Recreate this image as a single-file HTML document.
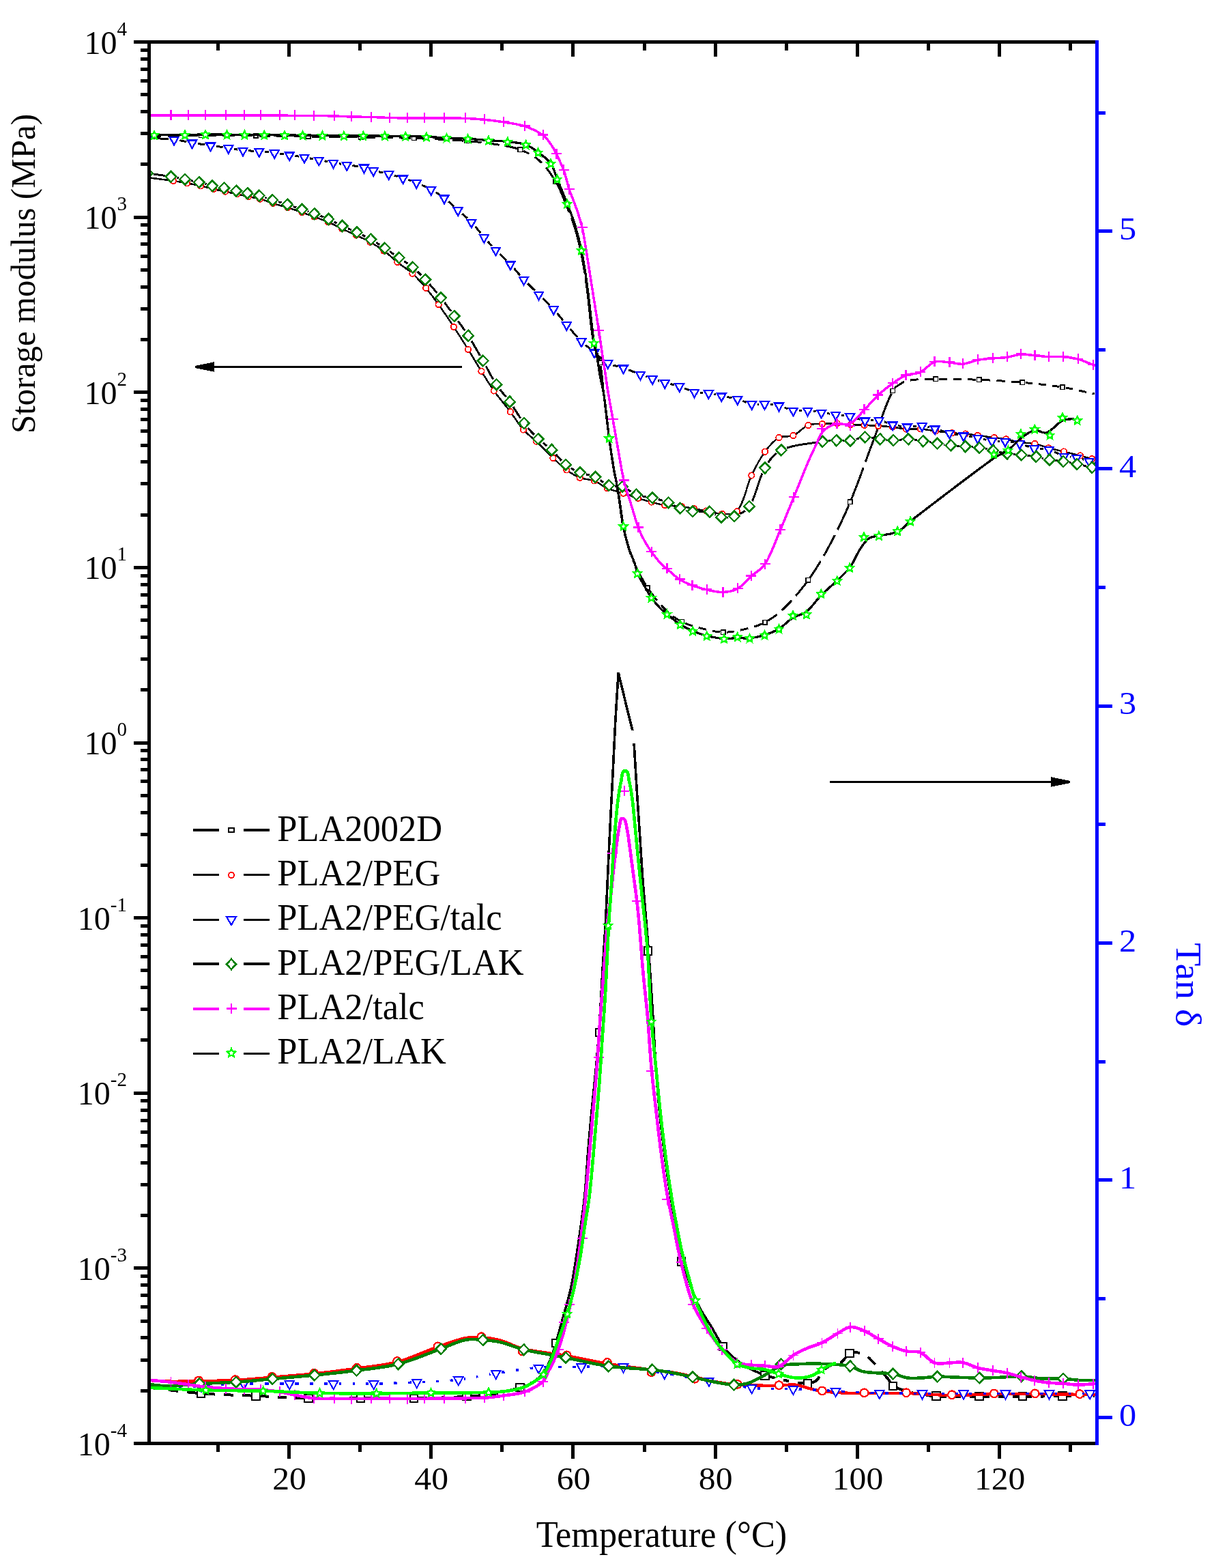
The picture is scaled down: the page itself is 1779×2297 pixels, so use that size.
<!DOCTYPE html>
<html lang="en"><head><meta charset="utf-8"><title>Storage modulus and Tan δ vs Temperature</title>
<style>html,body{margin:0;padding:0;background:#fff;width:1779px;height:2297px;overflow:hidden}svg{display:block}text{font-family:'Liberation Serif', 'DejaVu Serif', serif;}</style></head><body>
<svg width="1779" height="2297" viewBox="0 0 1779 2297">
<rect width="1779" height="2297" fill="#fff"/>
<defs>
<g id="sq_s"><rect x="-3.2" y="-3.2" width="6.4" height="6.4" fill="#fff" stroke="#000000" stroke-width="1.5"/></g>
<g id="ci_s"><circle r="4.2" fill="#fff" stroke="#ff0000" stroke-width="1.8"/></g>
<g id="tr"><path d="M-6.4,-6 L6.4,-6 L0,5.6 Z" fill="#fff" stroke="#0000ff" stroke-width="2.3" stroke-linejoin="miter"/></g>
<g id="di"><path d="M0,-7.9 L7.7,0 L0,7.9 L-7.7,0 Z" fill="#fff" stroke="#008000" stroke-width="2.5" stroke-linejoin="miter"/></g>
<g id="pl"><path d="M-7.5,0 H7.5 M0,-7.5 V7.5" fill="none" stroke="#ff00ff" stroke-width="2.4"/></g>
<g id="st"><path d="M0,-6L1.7,-2.3L5.7,-1.9L2.8,0.9L3.5,4.9L0,2.9L-3.5,4.9L-2.8,0.9L-5.7,-1.9L-1.7,-2.3Z" fill="#fff" stroke="#00ff00" stroke-width="2.4" stroke-linejoin="miter"/></g>
<g id="sq_b"><rect x="-5.7" y="-5.7" width="11.4" height="11.4" fill="#fff" stroke="#000000" stroke-width="2"/></g>
<g id="ci_b"><circle r="5.8" fill="#fff" stroke="#ff0000" stroke-width="2.3"/></g>
<g id="tr_b"><path d="M-6.7,-6.2 L6.7,-6.2 L0,5.9 Z" fill="#fff" stroke="#0000ff" stroke-width="2" stroke-linejoin="miter"/></g>
<g id="di_b"><path d="M0,-7.8 L7.6,0 L0,7.8 L-7.6,0 Z" fill="#fff" stroke="#008000" stroke-width="2.5" stroke-linejoin="miter"/></g>
<g id="pl_b"><path d="M-7.5,0 H7.5 M0,-7.5 V7.5" fill="none" stroke="#ff00ff" stroke-width="1.8"/></g>
<g id="st_b"><path d="M0,-6.1L1.7,-2.3L5.8,-1.9L2.8,0.9L3.6,4.9L0,2.9L-3.6,4.9L-2.8,0.9L-5.8,-1.9L-1.7,-2.3Z" fill="#fff" stroke="#00ff00" stroke-width="2.2" stroke-linejoin="miter"/></g>
<clipPath id="cp"><rect x="221" y="64" width="1384" height="2048"/></clipPath>
</defs>
<g clip-path="url(#cp)" shape-rendering="crispEdges">
<g id="storage-modulus">
<path d="M221,199.5 L222,199.5 L223,199.5 L224,199.5 L225,199.4 L226,199.4 L227,199.4 L228.1,199.4 L229.1,199.4 L230.1,199.4 L231.1,199.4 L232.1,199.3 L233.1,199.3 L234.1,199.3 L235.1,199.3 L236.1,199.3 L236.4,199.3 M245.6,199.1 L246.2,199.1 L247.2,199.1 L248.2,199.1 L249.2,199 L250.2,199 L251.2,199 L252.3,199 L253.3,199 L254.3,199 L255.3,198.9 L256.3,198.9 L257.3,198.9 L258.3,198.9 L259.3,198.9 L260.3,198.9 L261.3,198.8 L262.3,198.8 L263.2,198.8 M272.4,198.7 L272.4,198.7 L273.4,198.7 L274.4,198.7 L275.4,198.7 L276.5,198.6 L277.5,198.6 L278.5,198.6 L279.5,198.6 L280.5,198.6 L281.5,198.6 L282.5,198.6 L283.5,198.6 L284.5,198.6 L285.5,198.6 L286.5,198.5 L287.5,198.5 L288.6,198.5 L289.6,198.5 L290,198.5 M299.2,198.5 L299.6,198.5 L300.6,198.5 L301.6,198.5 L302.6,198.5 L303.6,198.5 L304.7,198.5 L305.7,198.5 L306.7,198.5 L307.7,198.5 L308.7,198.5 L309.7,198.5 L310.7,198.5 L311.7,198.5 L312.7,198.5 L313.7,198.5 L314.7,198.5 L315.7,198.5 L316.7,198.5 L316.8,198.5 M326,198.6 L326.8,198.6 L327.8,198.6 L328.8,198.6 L329.8,198.6 L330.8,198.6 L331.8,198.6 L332.8,198.6 L333.8,198.6 L334.8,198.6 L335.8,198.6 L336.8,198.6 L337.8,198.6 L338.8,198.7 L339.8,198.7 L340.8,198.7 L341.8,198.7 L342.8,198.7 L343.6,198.7 M352.8,198.8 L352.9,198.8 L353.9,198.8 L354.9,198.8 L355.9,198.8 L356.9,198.8 L357.9,198.8 L358.9,198.8 L359.9,198.9 L360.9,198.9 L361.9,198.9 L362.9,198.9 L363.9,198.9 L365,198.9 L366,198.9 L367,198.9 L368,198.9 L369,198.9 L370,199 L370.4,199 M379.6,199 L380,199 L381,199.1 L382,199.1 L383,199.1 L384,199.1 L385,199.1 L386,199.1 L387,199.1 L388,199.1 L389,199.1 L390,199.2 L391,199.2 L392,199.2 L393,199.2 L394,199.2 L395,199.2 L396,199.2 L396,199.2 M405.2,199.4 L406,199.4 L407,199.4 L408,199.4 L409,199.4 L410,199.4 L411,199.4 L412,199.4 L413,199.5 L414,199.5 L415,199.5 L416,199.5 L417,199.5 L418,199.5 L419,199.5 L420,199.6 L421,199.6 L421.7,199.6 M430.9,199.7 L431,199.7 L432,199.7 L433,199.7 L434,199.8 L435,199.8 L436,199.8 L437,199.8 L438,199.8 L439,199.8 L440,199.8 L441,199.9 L442,199.9 L443,199.9 L444,199.9 L445,199.9 L446,199.9 L447,199.9 L447.3,199.9 M456.5,200.1 L457,200.1 L458,200.1 L459,200.1 L460,200.1 L461,200.1 L462,200.1 L463,200.1 L464,200.1 L465,200.2 L466,200.2 L467,200.2 L468,200.2 L469,200.2 L470,200.2 L471,200.2 L472,200.2 L472.9,200.3 M482.1,200.4 L483,200.4 L484,200.4 L485,200.4 L486,200.4 L487,200.4 L488,200.4 L489,200.4 L490,200.5 L491,200.5 L492,200.5 L493,200.5 L494,200.5 L495,200.5 L496,200.5 L497,200.5 L498,200.6 L498.6,200.6 M507.8,200.7 L508,200.7 L509,200.7 L510,200.7 L511,200.7 L512,200.7 L513,200.7 L514,200.8 L515,200.8 L516,200.8 L517,200.8 L518,200.8 L519,200.8 L520,200.8 L521,200.9 L522,200.9 L523,200.9 L524,200.9 L524.2,200.9 M533.4,201.1 L534,201.1 L535,201.1 L536,201.1 L537,201.1 L538,201.1 L539,201.1 L540,201.2 L541,201.2 L542,201.2 L543,201.2 L544,201.2 L545,201.2 L546,201.2 L547,201.3 L548,201.3 L549,201.3 L550,201.3 L550.2,201.3 M559.4,201.4 L560,201.4 L561,201.5 L562,201.5 L563,201.5 L564,201.5 L565,201.5 L566,201.5 L567,201.5 L568,201.6 L569,201.6 L570,201.6 L571,201.6 L572,201.6 L573,201.7 L574,201.7 L575,201.7 L576,201.7 L576.1,201.7 M585.3,201.9 L586,201.9 L587,201.9 L588,202 L589,202 L590,202 L591,202 L592,202.1 L593,202.1 L594,202.1 L595,202.1 L596,202.2 L597,202.2 L598,202.2 L599,202.3 L600,202.3 L601,202.3 L602,202.4 L602.1,202.4 M611.3,202.7 L612,202.7 L613,202.8 L614,202.8 L615,202.8 L616,202.9 L617,202.9 L618,202.9 L619,203 L620,203 L621,203.1 L622,203.1 L623,203.1 L624,203.2 L625,203.2 L626,203.3 L627,203.3 L627.9,203.3 M637.1,203.7 L638,203.8 L639,203.8 L640,203.9 L641,203.9 L642,204 L643,204 L644,204.1 L645,204.1 L646,204.2 L647,204.2 L648,204.3 L649,204.3 L650,204.4 L651,204.4 L652,204.5 L653,204.5 L653.7,204.5 M662.9,205.1 L663,205.1 L664,205.1 L665,205.2 L666,205.3 L667,205.3 L668,205.4 L669,205.4 L670,205.5 L671,205.6 L672,205.6 L673,205.7 L674,205.8 L675,205.8 L676,205.9 L677,206 L678,206.1 L679,206.1 L679.5,206.2 M688.7,206.9 L689,206.9 L690,207 L691,207.1 L692,207.2 L693,207.3 L694,207.4 L695,207.5 L696,207.6 L697,207.7 L698,207.8 L699,207.9 L700.1,208 L701.1,208.1 L702.1,208.2 L703.1,208.3 L704.1,208.4 L705.1,208.5 L705.5,208.6 M714.7,209.7 L715.1,209.8 L716.1,209.9 L717.1,210 L718,210.2 L719,210.3 L720,210.5 L721,210.6 L722,210.8 L723,210.9 L724,211.1 L725,211.2 L726,211.4 L727,211.5 L728,211.7 L729,211.8 L730,212 L731,212.2 L731.6,212.3 M740.6,213.8 L741.2,213.9 L742.2,214.1 L743.2,214.2 L744.2,214.4 L745.3,214.6 L746.3,214.8 L747.3,215.1 L748.3,215.3 L749.3,215.5 L750.3,215.7 L751.3,216 L752.3,216.2 L753.3,216.5 L754.3,216.8 L755.3,217 L756.3,217.3 L757.2,217.6 L757.8,217.8 M766.4,221 L766.8,221.2 L767.7,221.6 L768.6,222 L769.5,222.4 L770.5,222.8 L771.4,223.2 L772.3,223.6 L773.2,224.1 L774.1,224.5 L775,225 L775.4,225.2 M783.4,229.9 L783.7,230.1 L784.5,230.7 L785.3,231.2 L786.1,231.8 L786.9,232.4 L787.7,233.1 L788.5,233.7 L789.2,234.3 L790,235 L790.7,235.7 L791.5,236.4 L792.2,237.1 L792.9,237.8 L793.7,238.5 L793.7,238.5 M799.8,245.3 L800.4,246 L801,246.7 L801.7,247.5 L802.3,248.3 L802.9,249.1 L803.5,249.9 L804.1,250.7 L804.7,251.6 L805.3,252.4 L805.9,253.2 L806.5,254 L807.1,254.9 L807.7,255.7 L808.2,256.5 L808.8,257.4 L809.3,258.2 L809.9,259.1 L810.5,259.9 L811,260.8 L811.5,261.6 L811.8,262 M816.5,269.9 L816.7,270.3 L817.2,271.2 L817.6,272.1 L818.1,273 L818.6,273.9 L819,274.8 L819.4,275.7 L819.9,276.6 L820.3,277.5 L820.7,278.5 L821.1,279.4 L821.5,280.3 L822,281.3 L822.4,282.2 L822.8,283.1 L823.1,284.1 L823.5,285 L823.9,285.9 L824.3,286.9 L824.7,287.8 L825.1,288.8 L825.5,289.7 L825.8,290.6 L826.2,291.6 L826.6,292.5 L827,293.5 L827.3,294.4 L827.7,295.4 L828.1,296.3 L828.5,297.2 L828.8,298.2 L829.2,299.1 L829.6,300.1 L830,301 L830.4,301.9 L830.8,302.9 L831.2,303.8 L831.5,304.7 L831.9,305.6 L832.3,306.6 L832.7,307.5 L833,308.4 L833.4,309.4 L833.8,310.3 L834.2,311.2 L834.2,311.3 M837.5,319.9 L837.8,320.6 L838.1,321.6 L838.5,322.5 L838.8,323.5 L839.1,324.4 L839.5,325.4 L839.8,326.3 L840.1,327.3 L840.4,328.2 L840.8,329.2 L841.1,330.1 L841.4,331.1 L841.7,332 L842,333 L842.3,334 L842.6,334.9 L842.9,335.9 L843.2,336.8 L843.5,337.8 L843.7,338.8 L844,339.7 L844.3,340.7 L844.6,341.7 L844.9,342.6 L845.1,343.6 L845.4,344.6 L845.7,345.5 L845.9,346.5 L846.2,347.5 L846.4,348.4 L846.7,349.4 L846.9,350.4 L847.2,351.4 L847.4,352.3 L847.7,353.3 L847.9,354.3 L848.2,355.3 L848.4,356.2 L848.6,357.2 L848.8,358.2 L849.1,359.2 L849.3,360.1 L849.5,361.1 L849.7,362.1 L850,363.1 L850.2,364.1 L850.4,365.1 L850.6,366 L850.8,367 L851,368 L851.2,369 L851.4,370 L851.6,371 L851.8,372 L852,373 L852.2,374 L852.4,375 L852.6,376 L852.8,377 L853,378 L853.2,378.9 L853.3,379.9 L853.5,380.9 L853.7,381.9 L853.9,382.9 L854.1,383.9 L854.3,384.9 L854.4,385.9 L854.6,386.9 L854.8,387.9 L855,388.9 L855.1,389.9 L855.3,390.9 L855.5,391.9 L855.6,392.9 L855.8,393.9 L856,394.9 L856.1,395.9 L856.3,396.9 L856.5,397.9 L856.6,398.9 L856.8,399.9 L856.8,400.1 M858.2,409.2 L858.3,410 L858.5,411 L858.6,412 L858.8,413 L858.9,414 L859.1,415 L859.2,416 L859.4,417 L859.5,418 L859.6,419 L859.8,420 L859.9,421 L860,422 L860.2,423 L860.3,424 L860.4,425 L860.6,426 L860.7,427 L860.8,428 L860.9,429 L861,430 L861.2,431 L861.3,432 L861.4,433 L861.5,434 L861.6,435 L861.7,436 L861.8,437 L862,438 L862.1,439 L862.2,440 L862.3,441 L862.4,442 L862.5,443 L862.6,444 L862.7,445 L862.8,446 L862.9,447 L863,448 L863.1,449 L863.2,450 L863.3,451 L863.4,452 L863.5,453 L863.6,454 L863.7,455 L863.9,456 L864,457 L864.1,458.1 L864.2,459.1 L864.3,460.1 L864.4,461.1 L864.5,462.1 L864.6,463.1 L864.7,464.1 L864.8,465.1 L864.9,466.1 L865,467.1 L865.1,468.1 L865.2,469.1 L865.4,470.1 L865.5,471.1 L865.6,472.1 L865.7,473.1 L865.8,474.1 L865.9,475.1 L866.1,476.1 L866.2,477.1 L866.3,478.1 L866.4,479.1 L866.5,480.1 L866.7,481.1 L866.8,482.1 L866.9,483.1 L867.1,484.1 L867.2,485.1 L867.3,486.1 L867.5,487.1 L867.6,488.1 L867.8,489.1 L867.9,490.1 L868.1,491.1 L868.2,492 L868.4,493 L868.5,494 L868.7,495 L868.8,496 L869,497 L869.2,498 L869.3,499 L869.5,500 L869.7,501 L869.9,502 L870.1,503 L870.4,504 L870.6,505 L870.9,506 L871.2,506.9 L871.5,507.9 L871.8,508.9 L872.2,509.9 L872.5,510.8 L872.8,511.8 L873.2,512.8 L873.6,513.7 L873.9,514.7 L874.3,515.7 L874.6,516.6 L875,517.6 L875.4,518.6 L875.7,519.5 L876.1,520.5 L876.4,521.5 L876.7,522.4 L877.1,523.4 L877.4,524.4 L877.7,525.4 L878,526.3 L878.1,526.8 M880,535.8 L880.1,536.2 L880.2,537.2 L880.4,538.2 L880.5,539.2 L880.7,540.2 L880.8,541.2 L881,542.2 L881.1,543.1 L881.2,544.1 L881.4,545.1 L881.5,546.1 L881.6,547.1 L881.7,548.1 L881.8,549.1 L882,550.1 L882.1,551.1 L882.2,552.1 L882.3,553.1 L882.4,554.1 L882.5,555.1 L882.6,556.1 L882.7,557.1 L882.8,558.1 L882.9,559.1 L883,560.1 L883.1,561.1 L883.2,562.1 L883.3,563.1 L883.4,564.1 L883.4,565.1 L883.5,566.1 L883.6,567.1 L883.7,568 L883.8,569 L883.9,570 L884,571 L884.1,572 L884.2,573 L884.3,574 L884.4,575 L884.5,576 L884.7,577 L884.8,578 L884.9,579 L885,580 L885.1,581 L885.2,582 L885.4,583 L885.5,584 L885.6,585 L885.7,586 L885.8,587 L886,588 L886.1,589 L886.2,590 L886.3,591 L886.4,592 L886.5,593 L886.7,594 L886.8,595 L886.9,596 L887,597 L887.1,598 L887.2,599 L887.4,600 L887.5,601 L887.6,602 L887.7,603 L887.8,604 L888,605 L888.1,606 L888.2,607 L888.3,608 L888.4,609 L888.5,610 L888.7,611 L888.8,612 L888.9,613 L889,614 L889.1,615 L889.3,616 L889.4,617 L889.5,618 L889.6,619 L889.7,620 L889.9,621 L890,622 L890.1,623 L890.2,624 L890.3,625 L890.5,626 L890.6,627 L890.7,628 L890.8,629 L891,630 L891.1,631 L891.2,632 L891.3,633 L891.5,634 L891.6,635 L891.7,636 L891.8,637 L892,638 L892.1,639 L892.2,640 L892.4,641 L892.5,642 L892.6,643 L892.8,644 L892.9,645 L893,646 L893.2,647 L893.3,648 L893.4,649 L893.6,650 L893.7,651 L893.9,652 L894,653 L894.1,654 L894.3,655 L894.4,656 L894.6,657 L894.7,658 L894.8,659 L895,660 L895.1,661 L895.3,662 L895.4,663 L895.6,664 L895.7,665 L895.9,666 L896,667 L896.2,668 L896.3,669 L896.5,670 L896.6,671 L896.8,672 L896.9,673 L897.1,674 L897.2,675 L897.4,676 L897.6,677 L897.7,678 L897.9,679 L898,680 L898.2,681 L898.3,682 L898.5,683 L898.7,684 L898.8,685 L899,686 L899.2,687 L899.3,688 L899.5,689 L899.7,690 L899.9,691 L900,692 L900.2,693 L900.4,694 L900.6,695 L900.8,696 L901,697 L901.2,698 L901.3,699 L901.5,700 L901.6,700.3 M903.3,709.3 L903.5,710 L903.7,711 L903.8,712 L904,713 L904.2,714 L904.4,715 L904.6,716 L904.8,717 L905,718 L905.1,719 L905.3,720 L905.5,721 L905.7,722 L905.8,723 L906,724 L906.2,725 L906.3,726 L906.5,727 L906.6,728 L906.8,729 L906.9,730 L907.1,731 L907.2,732 L907.4,733 L907.5,734 L907.7,735 L907.8,736 L907.9,737 L908.1,738 L908.2,739 L908.3,740 L908.5,741 L908.6,742 L908.7,743 L908.9,744 L909,745 L909.1,746 L909.3,747 L909.4,748 L909.5,749 L909.7,750 L909.8,751 L909.9,752 L910.1,753 L910.2,754 L910.4,755 L910.5,756 L910.7,757 L910.8,758 L911,759 L911.1,760 L911.3,761 L911.4,762 L911.6,763 L911.8,764 L911.9,765 L912.1,766 L912.3,767 L912.4,768 L912.6,769 L912.8,770 L913,771 L913.2,772 L913.4,773 L913.6,773.9 L913.8,774.9 L914,775.9 L914.2,776.9 L914.4,777.9 L914.7,778.8 L914.9,779.8 L915.1,780.8 L915.3,781.8 L915.6,782.7 L915.8,783.7 L916.1,784.7 L916.3,785.7 L916.6,786.6 L916.8,787.6 L917.1,788.6 L917.3,789.6 L917.6,790.5 L917.8,791.5 L918.1,792.5 L918.4,793.4 L918.6,794.4 L918.9,795.4 L919.2,796.3 L919.5,797.3 L919.8,798.2 L920,799.2 L920.3,800.2 L920.6,801.1 L920.9,802.1 L921.2,803 L921.5,804 L921.8,805 L922.1,806 L922.4,806.9 L922.8,807.9 L923.1,808.9 L923.4,809.9 L923.7,810.8 L924.1,811.8 L924.1,811.9 M927.5,820.4 L927.9,821.3 L928.3,822.3 L928.7,823.2 L929.1,824.1 L929.6,825.1 L930,826 L930.4,826.9 L930.9,827.8 L931.3,828.8 L931.8,829.7 L932.2,830.6 L932.7,831.5 L933.1,832.4 L933.6,833.4 L934,834.3 L934.5,835.2 L934.9,836.1 L935.4,837 L935.8,837.9 L936.3,838.9 L936.8,839.8 L937.2,840.7 L937.7,841.6 L938.2,842.5 L938.6,843.4 L939.1,844.3 L939.6,845.2 L940.1,846.1 L940.6,847 L941.1,847.9 L941.6,848.8 L942.1,849.7 L942.6,850.6 L943.1,851.5 L943.6,852.3 L944.1,853.2 L944.6,854.1 L945.2,855 L945.7,855.8 L946.2,856.7 L946.5,857.1 M951.6,864.8 L951.8,865.2 L952.4,866 L953,866.8 L953.6,867.6 L954.2,868.4 L954.8,869.2 L955.4,870.1 L956,870.9 L956.6,871.7 L957.2,872.5 L957.8,873.3 L958.4,874.1 L959,874.9 L959.6,875.7 L960.3,876.5 L960.9,877.3 L961.5,878 L962.2,878.8 L962.7,879.5 M968.8,886.5 L969.4,887.2 L970.1,887.9 L970.8,888.7 L971.5,889.4 L972.2,890.1 L972.9,890.9 L973.6,891.6 L974.3,892.3 L975,893 L975.7,893.7 L976.5,894.4 L977.2,895.2 L978,895.9 L978.8,896.6 L978.9,896.7 M986,902.6 L986.8,903.2 L987.6,903.8 L988.5,904.4 L989.3,905 L990.2,905.5 L991,906.1 L991.9,906.7 L992.8,907.2 L993.7,907.8 L994.6,908.3 L995.1,908.6 M1003.3,912.8 L1003.7,912.9 L1004.6,913.3 L1005.6,913.7 L1006.5,914.1 L1007.5,914.5 L1008.4,914.8 L1009.4,915.2 L1010.4,915.5 L1011.3,915.8 L1012.3,916.1 L1013.3,916.4 L1014.2,916.7 L1014.9,917 M1023.8,919.4 L1024.1,919.5 L1025.1,919.7 L1026,920 L1027,920.3 L1028,920.5 L1029,920.8 L1030,921 L1031,921.2 L1032,921.5 L1032.9,921.7 L1033.9,922 L1034.9,922.2 L1035.2,922.3 M1044.1,924.3 L1044.8,924.5 L1045.8,924.7 L1046.8,924.8 L1047.8,925 L1048.8,925.2 L1049.8,925.3 L1050.8,925.5 L1051.8,925.6 L1052.8,925.7 L1053.8,925.8 L1054.9,925.9 L1055.3,926 M1064.5,926.1 L1065,926.1 L1066,926.1 L1067,926 L1068,925.9 L1069,925.8 L1070,925.7 L1071,925.6 L1072,925.5 L1073,925.3 L1074,925.2 L1075.1,925 L1075.7,924.9 M1084.8,923.2 L1085.1,923.1 L1086,922.9 L1087,922.7 L1088,922.5 L1089,922.2 L1090,922 L1091,921.8 L1092,921.5 L1093,921.3 L1094,921 L1095,920.8 L1096,920.6 L1096.2,920.5 M1105.1,918.1 L1105.9,917.8 L1106.8,917.5 L1107.8,917.2 L1108.8,916.9 L1109.8,916.5 L1110.7,916.2 L1111.7,915.9 L1112.6,915.5 L1113.6,915.1 L1114.5,914.7 L1115.5,914.3 L1116.4,913.9 L1116.9,913.7 M1125,909.4 L1125.4,909.2 L1126.2,908.7 L1127.1,908.2 L1128,907.6 L1128.8,907.1 L1129.7,906.5 L1130.5,906 L1131.3,905.4 L1132.2,904.9 L1133,904.3 L1133.8,903.7 L1134.6,903.1 L1135.4,902.5 L1136.3,901.9 L1137.1,901.3 L1137.9,900.6 L1138.6,900.1 M1145.6,894.1 L1146.3,893.5 L1147.1,892.8 L1147.8,892.1 L1148.6,891.4 L1149.3,890.7 L1150,890 L1150.7,889.3 L1151.5,888.6 L1152.2,887.9 L1152.9,887.1 L1153.6,886.4 L1154.3,885.7 L1155,885 L1155.7,884.2 L1156.4,883.5 L1157.2,882.8 L1157.9,882 L1158.6,881.3 L1159.2,880.5 L1159.9,879.8 L1160.2,879.5 M1166.3,872.7 L1166.7,872.2 L1167.4,871.4 L1168.1,870.6 L1168.7,869.9 L1169.4,869.1 L1170,868.3 L1170.7,867.5 L1171.3,866.7 L1172,865.9 L1172.6,865.2 L1173.3,864.4 L1173.9,863.6 L1174.5,862.8 L1175.2,862 L1175.8,861.2 L1176.4,860.4 L1177.1,859.6 L1177.7,858.8 L1178.3,858 L1178.9,857.2 L1179.6,856.3 L1180.2,855.5 L1180.8,854.7 L1181.4,853.9 L1181.7,853.5 M1187.1,846.1 L1187.3,845.7 L1187.9,844.9 L1188.5,844 L1189,843.2 L1189.6,842.4 L1190.2,841.5 L1190.7,840.7 L1191.3,839.9 L1191.9,839 L1192.4,838.2 L1193,837.3 L1193.5,836.5 L1194.1,835.7 L1194.6,834.8 L1195.2,834 L1195.7,833.1 L1196.3,832.3 L1196.8,831.4 L1197.3,830.6 L1197.9,829.7 L1198.4,828.9 L1198.9,828 L1199.5,827.1 L1200,826.3 L1200.5,825.4 L1201,824.6 L1201.6,823.7 L1202.1,822.8 L1202.6,822 M1207.2,814.1 L1207.7,813.2 L1208.2,812.4 L1208.7,811.5 L1209.2,810.6 L1209.7,809.7 L1210.2,808.8 L1210.7,808 L1211.1,807.1 L1211.6,806.2 L1212.1,805.3 L1212.6,804.4 L1213.1,803.5 L1213.6,802.7 L1214,801.8 L1214.5,800.9 L1215,800 L1215.5,799.1 L1216,798.2 L1216.4,797.3 L1216.9,796.4 L1217.4,795.5 L1217.8,794.7 L1218.3,793.8 L1218.8,792.9 L1219.3,792 L1219.7,791.1 L1220.2,790.2 L1220.7,789.3 L1221.1,788.4 L1221.6,787.5 L1222,786.6 L1222.5,785.7 L1223,784.8 L1223.3,784 M1227.4,775.8 L1227.5,775.7 L1227.9,774.8 L1228.4,773.9 L1228.8,773 L1229.3,772.1 L1229.7,771.2 L1230.1,770.3 L1230.6,769.4 L1231,768.5 L1231.4,767.6 L1231.9,766.7 L1232.3,765.7 L1232.7,764.8 L1233.2,763.9 L1233.6,763 L1234,762.1 L1234.5,761.2 L1234.9,760.2 L1235.3,759.3 L1235.7,758.4 L1236.2,757.5 L1236.6,756.6 L1237,755.7 L1237.4,754.7 L1237.8,753.8 L1238.2,752.9 L1238.7,752 L1239.1,751.1 L1239.5,750.1 L1239.9,749.2 L1240.3,748.3 L1240.7,747.4 L1241.1,746.4 L1241.5,745.5 L1241.9,744.6 L1242.3,743.7 L1242.7,742.7 L1243.1,741.8 L1243.5,740.9 L1243.9,739.9 L1244.1,739.5 M1247.7,731.1 L1247.8,730.7 L1248.2,729.7 L1248.6,728.8 L1249,727.9 L1249.3,726.9 L1249.7,726 L1250.1,725.1 L1250.5,724.1 L1250.8,723.2 L1251.2,722.3 L1251.6,721.3 L1251.9,720.4 L1252.3,719.5 L1252.7,718.5 L1253,717.6 L1253.4,716.6 L1253.8,715.7 L1254.1,714.8 L1254.5,713.8 L1254.9,712.9 L1255.2,712 L1255.6,711 L1255.9,710.1 L1256.3,709.1 L1256.6,708.2 L1257,707.3 L1257.4,706.3 L1257.7,705.4 L1258.1,704.4 L1258.4,703.5 L1258.8,702.6 L1259.1,701.6 L1259.5,700.7 L1259.8,699.7 L1260.2,698.8 L1260.5,697.8 L1260.9,696.9 L1261.2,696 L1261.6,695 L1261.9,694.1 L1262.3,693.1 L1262.6,692.2 L1263,691.2 L1263.3,690.3 L1263.6,689.3 L1264,688.4 L1264.3,687.5 L1264.7,686.5 L1265,685.6 L1265.1,685.3 M1268.3,676.6 L1268.5,676.1 L1268.8,675.2 L1269.2,674.2 L1269.5,673.3 L1269.8,672.3 L1270.2,671.4 L1270.5,670.4 L1270.9,669.5 L1271.2,668.6 L1271.6,667.6 L1271.9,666.7 L1272.3,665.7 L1272.6,664.8 L1272.9,663.8 L1273.3,662.9 L1273.6,661.9 L1274,661 L1274.3,660.1 L1274.7,659.1 L1275,658.2 L1275.4,657.2 L1275.7,656.3 L1276.1,655.3 L1276.4,654.4 L1276.8,653.5 L1277.1,652.5 L1277.5,651.6 L1277.9,650.6 L1278.2,649.7 L1278.6,648.8 L1278.9,647.8 L1279.3,646.9 L1279.6,645.9 L1280,645 L1280.4,644.1 L1280.7,643.1 L1281.1,642.2 L1281.4,641.2 L1281.8,640.3 L1282.1,639.3 L1282.5,638.4 L1282.8,637.4 L1283.2,636.5 L1283.5,635.5 L1283.9,634.6 L1284.2,633.6 L1284.6,632.7 L1284.9,631.7 L1285.2,630.8 L1285.6,629.8 L1285.9,628.9 L1286,628.8 M1289,620.1 L1289.3,619.3 L1289.6,618.4 L1290,617.4 L1290.3,616.4 L1290.7,615.5 L1291,614.5 L1291.3,613.6 L1291.7,612.6 L1292,611.7 L1292.4,610.7 L1292.7,609.8 L1293.1,608.8 L1293.4,607.9 L1293.8,606.9 L1294.1,606 L1294.5,605 L1294.8,604.1 L1295.2,603.1 L1295.5,602.2 L1295.9,601.2 L1296.2,600.3 L1296.6,599.3 L1297,598.4 L1297.3,597.5 L1297.7,596.5 L1298.1,595.6 L1298.4,594.6 L1298.8,593.7 L1299.2,592.8 L1299.6,591.8 L1299.9,590.9 L1300.3,590 L1300.7,589 L1301.1,588.1 L1301.5,587.2 L1301.9,586.2 L1302.3,585.3 L1302.7,584.4 L1303.1,583.5 L1303.5,582.5 L1303.9,581.6 L1304.4,580.7 L1304.8,579.8 L1305.2,578.9 L1305.6,577.9 L1306.1,577 L1306.3,576.6 M1311,568.8 L1311.4,568.3 L1312.1,567.6 L1312.9,566.9 L1313.7,566.2 L1314.6,565.6 L1315.5,565 L1316.4,564.4 L1317.3,563.8 L1318.2,563.2 L1319.1,562.7 L1320,562.1 L1321,561.6 L1321.9,561 L1322.8,560.5 L1323.7,560 L1324.6,559.6 L1324.9,559.5 M1333.8,557.2 L1334.6,557 L1335.7,556.8 L1336.7,556.6 L1337.8,556.5 L1338.9,556.3 L1339.9,556.2 L1341,556.1 L1342.1,556 L1343.2,556 L1344.2,555.9 L1345.3,555.9 L1345.7,555.8 M1354.9,555.5 L1355.7,555.5 L1356.8,555.4 L1357.8,555.4 L1358.8,555.4 L1359.9,555.4 L1360.9,555.4 L1362,555.3 L1363,555.3 L1364,555.3 L1365.1,555.3 L1366.1,555.3 L1366.7,555.3 M1375.9,555.3 L1376.3,555.3 L1377.3,555.3 L1378.3,555.3 L1379.4,555.3 L1380.4,555.3 L1381.4,555.4 L1382.4,555.4 L1383.4,555.4 L1384.4,555.4 L1385.4,555.4 L1386.4,555.4 L1387.4,555.4 L1387.8,555.4 M1397,555.5 L1397.5,555.5 L1398.5,555.5 L1399.5,555.5 L1400.5,555.5 L1401.5,555.5 L1402.5,555.5 L1403.5,555.5 L1404.5,555.6 L1405.5,555.6 L1406.5,555.6 L1407.5,555.6 L1408.5,555.6 L1409,555.6 M1418.2,555.8 L1418.6,555.8 L1419.6,555.8 L1420.6,555.9 L1421.6,555.9 L1422.6,555.9 L1423.6,555.9 L1424.6,556 L1425.6,556 L1426.7,556 L1427.7,556.1 L1428.7,556.1 L1429.7,556.1 L1430.1,556.1 M1439.3,556.5 L1439.8,556.5 L1440.8,556.6 L1441.8,556.6 L1442.8,556.6 L1443.8,556.7 L1444.8,556.7 L1445.8,556.8 L1446.8,556.8 L1447.8,556.9 L1448.8,556.9 L1449.9,557 L1450.9,557 L1451.3,557 M1460.5,557.5 L1461,557.6 L1462,557.6 L1463,557.7 L1464,557.8 L1465,557.8 L1466,557.9 L1467,557.9 L1468,558 L1469,558.1 L1470.1,558.1 L1471.1,558.2 L1472.1,558.3 L1472.5,558.3 M1481.7,558.9 L1482.2,559 L1483.2,559.1 L1484.2,559.1 L1485.2,559.2 L1486.2,559.3 L1487.2,559.4 L1488.2,559.4 L1489.2,559.5 L1490.2,559.6 L1491.2,559.7 L1492.3,559.8 L1493.3,559.9 L1493.7,559.9 M1502.9,560.7 L1503.3,560.8 L1504.3,560.8 L1505.3,560.9 L1506.3,561 L1507.3,561.1 L1508.3,561.2 L1509.3,561.3 L1510.3,561.4 L1511.3,561.5 L1512.3,561.6 L1513.3,561.7 L1513.3,561.7 M1522.4,562.7 L1523.2,562.7 L1524.2,562.9 L1525.2,563 L1526.2,563.1 L1527.2,563.2 L1528.2,563.3 L1529.2,563.4 L1530.2,563.5 L1531.2,563.7 L1532.2,563.8 L1532.9,563.9 M1542,565 L1542.1,565 L1543.1,565.2 L1544.1,565.3 L1545.1,565.4 L1546.1,565.6 L1547.1,565.7 L1548.1,565.9 L1549.1,566 L1550.1,566.1 L1551.1,566.3 L1552,566.4 L1552.5,566.5 M1561.5,568 L1562,568 L1563,568.2 L1563.9,568.4 L1564.9,568.6 L1565.9,568.8 L1566.9,569 L1567.9,569.2 L1568.9,569.3 L1569.9,569.5 L1570.9,569.7 L1571.8,569.9 L1572.1,570 M1581.1,571.9 L1581.7,572.1 L1582.7,572.3 L1583.7,572.5 L1584.6,572.7 L1585.6,573 L1586.6,573.2 L1587.6,573.4 L1588.6,573.6 L1589.5,573.8 L1590.5,574.1 L1591.5,574.3 L1591.6,574.3 M1600.6,576.3 L1601.3,576.5 L1602.3,576.7 L1603.3,576.9 L1604.3,577.1" fill="none" stroke="#000000" stroke-width="3" stroke-linejoin="round" stroke-linecap="butt"/>
<use href="#sq_s" x="294.6" y="198.5"/>
<use href="#sq_s" x="375" y="199"/>
<use href="#sq_s" x="451.9" y="200"/>
<use href="#sq_s" x="528.8" y="201"/>
<use href="#sq_s" x="606.7" y="202.5"/>
<use href="#sq_s" x="684.1" y="206.5"/>
<use href="#sq_s" x="762.1" y="219.3"/>
<use href="#sq_s" x="814.2" y="265.9"/>
<use href="#sq_s" x="879.2" y="531.3"/>
<use href="#sq_s" x="949" y="861"/>
<use href="#sq_s" x="999.1" y="910.8"/>
<use href="#sq_s" x="1059.9" y="926.2"/>
<use href="#sq_s" x="1121" y="911.7"/>
<use href="#sq_s" x="1184.4" y="849.8"/>
<use href="#sq_s" x="1245.9" y="735.3"/>
<use href="#sq_s" x="1308.3" y="572.5"/>
<use href="#sq_s" x="1371.3" y="555.3"/>
<use href="#sq_s" x="1434.7" y="556.3"/>
<use href="#sq_s" x="1498.3" y="560.3"/>
<use href="#sq_s" x="1557" y="567.2"/>
<path d="M221,260.7C232,262.1 243,263.4 254,265C261,266 268,267.2 275,268.5C281.7,269.7 288.4,271 295,272.5C301.7,274 308.3,276 315,277.5C320.6,278.8 326.3,279.8 332,281C338,282.3 344,283.7 350,285C355.3,286.2 360.7,287.4 366,288.5C371.7,289.7 377.4,290.5 383,292C389.4,293.8 395.6,296.5 402,298.5C409.3,300.8 416.7,302.7 424,305C431,307.2 438,309.6 445,312C451,314.1 457,316.3 463,318.5C470,321.1 477.1,323.5 484,326.5C490.8,329.5 497.3,333.3 504,336.5C510.9,339.8 518.1,342.7 525,346C532.1,349.4 539.2,352.5 546,356.5C552.9,360.6 559.6,365.1 566,370C571.8,374.4 576.8,379.7 582.4,384.2C589.6,389.9 597.6,394.6 604.4,400.7C611.6,407.2 618,414.6 624.2,422C630.7,429.8 636.8,437.9 642.7,446.2C650.4,456.9 657.7,467.8 664.9,478.8C672.1,489.7 679.1,500.8 686,511.9C692.6,522.4 698.8,533.2 705.4,543.7C711.4,553.4 717.2,563.2 723.8,572.5C731.4,583.1 740,592.9 747.9,603.3C754.4,611.9 759.8,621.4 766.9,629.5C772.5,635.9 779.6,640.7 785.8,646.6C794.1,654.5 802,663 810.4,670.9C816.8,676.9 823.2,683.2 830.3,688.4C836.3,692.8 842.7,697 849.7,699.8C856.5,702.5 864.2,701.9 871,704.5C877.8,707.1 883.2,712.4 889.9,715.2C897.5,718.4 905.7,720.1 913.5,722.7C920.7,725.1 927.8,727.8 935,730C941.5,732 948.1,733.8 954.7,735.5C961.2,737.2 967.7,739.2 974.3,740.2C982.5,741.4 990.9,741.2 999.1,742.1C1005.1,742.8 1011,743.9 1016.9,745C1022.8,746.1 1028.7,747.4 1034.6,748.5C1042.5,750 1050.3,752.7 1058.3,752.8C1065.6,752.9 1075.5,755 1080,749.2C1091.5,734.1 1093.3,713.7 1101.3,696.5C1107,684.4 1113.2,672.5 1121,661.7C1126.7,653.9 1133.1,645.9 1141.5,641.1C1147.6,637.6 1155.9,640.8 1162.4,638.1C1170.6,634.6 1176.1,626.2 1184.4,622.9C1190.8,620.3 1198.1,621.4 1204.9,621C1212.2,620.6 1219.4,620.1 1226.7,620.3C1233.3,620.5 1239.8,621.6 1246.3,622C1253.1,622.4 1259.9,622.6 1266.7,622.9C1273.5,623.2 1280.2,623.5 1287,623.9C1294,624.3 1301,624.7 1308,625.5C1314.7,626.3 1321.2,628.1 1327.9,628.6C1334.8,629.1 1341.8,627.9 1348.8,628.4C1356.3,628.9 1363.6,630.6 1371,631.5C1379,632.5 1386.9,633.6 1394.9,634.3C1401.5,634.9 1408.1,634.9 1414.6,635.5C1420.7,636.1 1426.7,637.1 1432.8,637.9C1440.8,638.9 1448.9,640 1456.9,641C1462.7,641.8 1468.5,642.2 1474.2,643.3C1481,644.6 1487.5,646.9 1494.3,648C1501.6,649.2 1509.1,648.6 1516.3,650C1523.2,651.4 1529.6,654.5 1536.4,656.3C1543.8,658.3 1551.4,659.7 1558.9,661.5C1566.9,663.4 1575,665.4 1583,667.5C1588.8,669 1594.5,670.8 1600.3,672.2C1601.8,672.6 1603.4,672.7 1605,673" fill="none" stroke="#000000" stroke-width="2.5" stroke-linejoin="round" stroke-linecap="butt"/>
<use href="#ci_s" x="254" y="265"/>
<use href="#ci_s" x="274" y="268.3"/>
<use href="#ci_s" x="294" y="272.3"/>
<use href="#ci_s" x="313" y="277"/>
<use href="#ci_s" x="330" y="280.6"/>
<use href="#ci_s" x="347.5" y="284.4"/>
<use href="#ci_s" x="364" y="288.1"/>
<use href="#ci_s" x="381" y="291.6"/>
<use href="#ci_s" x="400" y="297.8"/>
<use href="#ci_s" x="421.5" y="304.3"/>
<use href="#ci_s" x="442.5" y="311.2"/>
<use href="#ci_s" x="460.5" y="317.6"/>
<use href="#ci_s" x="481" y="325.4"/>
<use href="#ci_s" x="501" y="335"/>
<use href="#ci_s" x="522" y="344.6"/>
<use href="#ci_s" x="542.5" y="354.8"/>
<use href="#ci_s" x="562.5" y="367.6"/>
<use href="#ci_s" x="582.4" y="384.2"/>
<use href="#ci_s" x="604.4" y="400.7"/>
<use href="#ci_s" x="624.2" y="422"/>
<use href="#ci_s" x="642.7" y="446.2"/>
<use href="#ci_s" x="664.9" y="478.8"/>
<use href="#ci_s" x="686" y="511.9"/>
<use href="#ci_s" x="705.4" y="543.7"/>
<use href="#ci_s" x="723.8" y="572.5"/>
<use href="#ci_s" x="747.9" y="603.3"/>
<use href="#ci_s" x="766.9" y="629.5"/>
<use href="#ci_s" x="785.8" y="646.6"/>
<use href="#ci_s" x="810.4" y="670.9"/>
<use href="#ci_s" x="830.3" y="688.4"/>
<use href="#ci_s" x="849.7" y="699.8"/>
<use href="#ci_s" x="871" y="704.5"/>
<use href="#ci_s" x="889.9" y="715.2"/>
<use href="#ci_s" x="913.5" y="722.7"/>
<use href="#ci_s" x="935" y="730"/>
<use href="#ci_s" x="954.7" y="735.5"/>
<use href="#ci_s" x="974.3" y="740.2"/>
<use href="#ci_s" x="999.1" y="742.1"/>
<use href="#ci_s" x="1016.9" y="745"/>
<use href="#ci_s" x="1034.6" y="748.5"/>
<use href="#ci_s" x="1058.3" y="752.8"/>
<use href="#ci_s" x="1080" y="749.2"/>
<use href="#ci_s" x="1101.3" y="696.5"/>
<use href="#ci_s" x="1121" y="661.7"/>
<use href="#ci_s" x="1141.5" y="641.1"/>
<use href="#ci_s" x="1162.4" y="638.1"/>
<use href="#ci_s" x="1184.4" y="622.9"/>
<use href="#ci_s" x="1204.9" y="621"/>
<use href="#ci_s" x="1226.7" y="620.3"/>
<use href="#ci_s" x="1246.3" y="622"/>
<use href="#ci_s" x="1266.7" y="622.9"/>
<use href="#ci_s" x="1287" y="623.9"/>
<use href="#ci_s" x="1308" y="625.5"/>
<use href="#ci_s" x="1327.9" y="628.6"/>
<use href="#ci_s" x="1348.8" y="628.4"/>
<use href="#ci_s" x="1371" y="631.5"/>
<use href="#ci_s" x="1394.9" y="634.3"/>
<use href="#ci_s" x="1414.6" y="635.5"/>
<use href="#ci_s" x="1432.8" y="637.9"/>
<use href="#ci_s" x="1456.9" y="641"/>
<use href="#ci_s" x="1474.2" y="643.3"/>
<use href="#ci_s" x="1494.3" y="648"/>
<use href="#ci_s" x="1516.3" y="650"/>
<use href="#ci_s" x="1536.4" y="656.3"/>
<use href="#ci_s" x="1558.9" y="661.5"/>
<use href="#ci_s" x="1583" y="667.5"/>
<use href="#ci_s" x="1600.3" y="672.2"/>
<path d="M224.3,202.4 L225,202.5 L226,202.5 L227,202.6 L228,202.6 L229,202.7 L230,202.7 L231,202.8 L232,202.8 L233,202.9 L234.1,202.9 L235.1,203 L236.1,203 L237.1,203.1 L238.1,203.1 L239.1,203.2 L240.1,203.3 L241.1,203.3 L242.1,203.4 L243.1,203.4 L244.1,203.5 L245.1,203.6 L246.1,203.7 L246.8,203.7 M263.3,205.7 L264.3,205.9 L265.3,206.1 L266.3,206.3 L267.4,206.5 L268.4,206.7 L269.4,206.9 L270.4,207.1 L271.4,207.3 L272.4,207.5 L273.4,207.7 M289.8,210.5 L290.6,210.6 L291.6,210.7 L292.6,210.9 L293.6,211 L294.6,211.2 L295.6,211.3 L296.6,211.5 L297.6,211.6 L298.6,211.8 L299.6,211.9 L300.4,212 M316.8,214.3 L317.7,214.4 L318.7,214.6 L319.7,214.7 L320.7,214.8 L321.7,215 L322.7,215.1 L323.7,215.2 L324.7,215.4 L325.7,215.5 L326.6,215.6 M343,218.2 L343.9,218.4 L344.9,218.6 L345.9,218.8 L347,218.9 L347.9,219.1 M364.4,220.9 L365.4,220.9 L366.4,220.9 L367.4,221 L368.5,221 L369.5,221 L370.5,221.1 L371.5,221.1 M388.1,222.3 L389,222.4 L390,222.5 L391,222.6 L392,222.7 L393,222.8 L394,222.9 M410.4,225 L411.2,225.1 L412.2,225.2 L413.2,225.4 L414.2,225.5 L415.2,225.7 L416,225.8 M432.4,228.3 L433.1,228.4 L434.1,228.5 L435.1,228.7 L436.1,228.9 L437.1,229 L437.8,229.1 M454.2,231.9 L455.1,232.1 L456.1,232.3 L457.2,232.5 L458.2,232.6 L459.1,232.8 M475.5,235.8 L476.4,236 L477.4,236.2 L478.5,236.4 L479.5,236.6 L480.4,236.8 M496.8,239.7 L496.8,239.7 L497.9,239.9 L498.9,240.1 L499.9,240.3 L500,240.3 M516.4,242.7 L517.3,242.8 L518.3,242.9 L519.4,243 L520.4,243.2 L521.4,243.3 L522.4,243.4 L523.4,243.5 L524.4,243.7 L525.3,243.8 M555.3,251.8 L556,251.9 L557,252.1 L558,252.3 L558.9,252.5 L559.9,252.7 L560.9,252.9 L561.6,253.1 M577.7,257.1 L578.7,257.4 L579.7,257.7 L580.7,258 L581.7,258.2 L582.7,258.5 M598.5,263.5 L598.5,263.5 L599.5,263.8 L600.5,264.1 L601.5,264.5 L602.5,264.8 L602.5,264.8 M617.9,271 L618.8,271.4 L619.7,271.8 L620.6,272.2 L621.6,272.7 L622.5,273.1 L623.4,273.6 L624.2,274 M638.8,281.9 L638.9,282 L639.8,282.5 L640.6,283 L641.5,283.6 L642.4,284.2 L643.3,284.7 L644.2,285.3 L644.2,285.3 M657.4,295.4 L658.1,296 L658.9,296.7 L659.7,297.4 L660.4,298.1 L661.2,298.8 L662,299.5 L662.7,300.2 L663.5,300.9 L664.2,301.6 L665,302.3 M677.4,313.3 L678.1,313.9 L678.8,314.6 L679.6,315.2 L680.4,315.9 L681.2,316.6 L681.9,317.2 L682.7,317.9 L683.5,318.6 L684.3,319.3 L684.9,319.9 M696.4,331.8 L697,332.5 L697.7,333.3 L698.3,334.1 L699,334.9 L699.6,335.7 L700.3,336.5 L700.9,337.3 L701.6,338.1 L702.2,338.9 L702.9,339.7 L703.5,340.5 L704.1,341.2 M714.9,353.8 L715.4,354.4 L716.1,355.2 L716.8,355.9 L717.4,356.7 L718.1,357.4 L718.8,358.2 L719.5,358.9 L720.2,359.7 L720.7,360.3 M732.3,372.1 L733,372.8 L733.8,373.5 L734.5,374.2 L735.3,374.9 L736.1,375.6 L736.8,376.3 L737.6,377 L738.3,377.7 L739.1,378.4 L739.8,379.1 L740.6,379.8 L741.3,380.6 L742,381.2 M753.5,393.3 L754.1,394 L754.8,394.8 L755.4,395.6 L756.1,396.4 L756.8,397.2 L757.4,397.9 L758.1,398.7 L758.8,399.5 L759.4,400.3 L760.1,401.1 L760.8,401.9 L761.4,402.7 L762.1,403.4 M773.4,415.5 L774.1,416.2 L774.8,416.9 L775.6,417.7 L776.3,418.4 L777,419.1 L777.8,419.8 L778.5,420.5 L779.2,421.3 L780,422 L780.7,422.7 L781.5,423.4 L782.2,424.1 L783,424.8 L783.7,425.5 M795.5,437.1 L796.2,437.7 L796.9,438.4 L797.7,439.1 L798.4,439.8 L799.1,440.5 L799.9,441.3 L800.6,442 L801.3,442.7 L802,443.4 L802.8,444.1 L803.5,444.8 L804.2,445.5 L804.9,446.3 L805.6,446.9 M816.7,459.2 L817.3,459.9 L818,460.7 L818.6,461.5 L819.3,462.3 L819.9,463.1 L820.6,463.9 L821.2,464.7 L821.8,465.5 L822.5,466.3 L823.1,467.1 L823.8,467.9 L824.4,468.7 L825,469.4 M835.7,482.1 L836.3,482.7 L836.9,483.5 L837.6,484.2 L838.2,485 L838.9,485.8 L839.6,486.5 L840.2,487.3 L840.9,488.1 L841.6,488.8 L842.3,489.6 L842.9,490.3 L843.6,491.1 L844.3,491.8 L845,492.6 L845.7,493.3 L846.2,493.9 M858.1,505.5 L858.9,506.2 L859.7,506.8 L860.5,507.5 L861.3,508.2 L862.1,508.8 L862.9,509.5 L863.7,510.1 L864.5,510.8 L864.5,510.8 M877.2,521.5 L877.9,522.1 L878.6,522.8 L879.4,523.4 L880.2,524.1 L880.9,524.8 L881.7,525.5 L882.5,526.1 L883.3,526.8 L883.9,527.3 M898.5,535 L899.4,535.2 L900.4,535.5 L901.5,535.8 L902.5,536 L903.5,536.3 L904.5,536.5 L905.5,536.8 L905.5,536.8 M921.3,541.9 L922.2,542.2 L923.1,542.6 L924.1,542.9 L925,543.3 L926,543.7 L926.9,544.1 L927.9,544.4 L928.8,544.8 L929.8,545.2 L930.7,545.5 M946.2,551.4 L946.2,551.4 L947.2,551.8 L948.2,552.1 L948.3,552.2 M964,557.5 L964.7,557.7 L965.6,558 L966.3,558.2 M982.4,562.5 L982.4,562.5 L983.4,562.8 L984.5,563 L985.5,563.2 L986.5,563.4 L987.5,563.7 L987.6,563.7 M1003.3,568.8 L1004.2,569.2 L1005.1,569.6 L1006.1,570.1 L1007,570.5 L1008,570.9 L1008.9,571.3 L1009.7,571.6 M1025.8,575.3 L1025.9,575.3 L1026.9,575.3 L1028,575.3 L1029,575.3 L1030.1,575.4 L1030.1,575.4 M1046.5,577.5 L1047.4,577.7 L1048.4,577.9 L1049.2,578.1 M1065.5,581.5 L1065.5,581.5 L1066.5,581.7 L1067.5,581.9 L1068.5,582.1 L1069.5,582.3 L1070.6,582.5 L1071.6,582.7 L1072.6,582.9 M1088.5,587.4 L1089.2,587.7 L1090.2,588.1 L1091.1,588.5 L1092,588.8 L1093,589.2 L1093.6,589.5 M1109.9,592.1 L1110,592.1 L1111,592.1 L1112.1,592 L1112.2,592 M1128.8,592.4 L1129.6,592.4 L1130.6,592.5 L1131.6,592.6 L1132.6,592.7 L1133.3,592.8 M1149.4,596.8 L1150.1,597.1 L1151,597.5 L1151.9,597.9 L1152.9,598.3 L1153.8,598.7 L1154.5,598.9 M1170.7,601.7 L1171.5,601.6 L1172.5,601.6 L1173.5,601.5 L1174.5,601.5 L1175.3,601.4 M1191.8,602.3 L1192.7,602.4 L1193.7,602.6 L1194.7,602.8 L1195.5,602.9 M1211.9,605.6 L1212.7,605.7 L1213.6,605.8 L1214.6,606 L1215.6,606.1 L1216.4,606.2 M1232.9,608.2 L1233.6,608.3 L1234.6,608.4 L1235.6,608.5 L1236.6,608.6 L1237.4,608.6 M1253.6,612.1 L1253.6,612.1 L1254.6,612.5 L1255.6,612.8 L1256.6,613.2 L1257.6,613.5 L1258.5,613.9 L1259.5,614.2 L1259.6,614.2 M1275.9,616 L1276.8,615.9 L1277.8,615.8 L1278.8,615.7 L1279.7,615.6 M1296,617.8 L1296.7,618 L1297.6,618.4 L1298.6,618.8 L1299.5,619.2 L1300.2,619.5 M1316.2,623.7 L1317.2,623.8 L1318.2,624 L1319.2,624.1 L1320.2,624.2 L1321.1,624.4 M1337.7,624.6 L1337.7,624.6 L1338.7,624.5 L1339.8,624.4 L1340.8,624.2 L1341.9,624.1 L1342.9,624 L1342.9,624 M1359.4,625.1 L1360.2,625.3 L1361.2,625.6 L1362.1,625.8 M1378,630.4 L1378.8,630.6 L1379.8,630.9 L1380.7,631.3 L1381.7,631.6 L1382.7,631.9 L1383.4,632.1 M1399.5,636 L1399.6,636 L1400.6,636.2 L1401.7,636.4 L1402.7,636.5 L1403.7,636.7 L1403.8,636.7 M1420.2,639.4 L1420.9,639.5 L1421.9,639.6 L1422.9,639.8 L1423.9,640 L1424.6,640.1 M1440.9,643.3 L1441.7,643.5 L1442.7,643.7 L1443.7,643.9 L1444.7,644.2 L1445.4,644.3 M1461.9,646.1 L1462.8,646.1 L1463.8,646.1 L1464.7,646.1 M1481.2,647.3 L1482.2,647.4 L1483.2,647.6 L1484.2,647.7 L1485.2,647.9 L1486.2,648.1 M1502.2,652.4 L1503,652.7 L1504,653.1 L1504.9,653.5 L1505.9,653.8 L1506.8,654.2 L1507.7,654.5 M1523.9,657.7 L1523.9,657.7 L1524.9,657.7 L1526,657.7 L1527,657.7 L1528,657.8 L1529.1,657.8 M1545,661.8 L1545,661.8 L1546,662.3 L1546.9,662.8 L1547.9,663.2 L1548.8,663.7 L1549.7,664.2 L1550.7,664.7 L1551.6,665.2 L1551.6,665.2 M1567.5,669.5 L1568.5,669.5 L1569.5,669.6 L1569.5,669.6 M1585.8,672.5 L1585.9,672.5 L1586.9,672.8 L1587.9,673.1 L1588,673.1 M1604.1,677 L1605,677.2" fill="none" stroke="#000000" stroke-width="3" stroke-linejoin="round" stroke-linecap="butt"/>
<use href="#tr" x="216" y="204.3"/>
<use href="#tr" x="255.1" y="206.9"/>
<use href="#tr" x="281.6" y="211.6"/>
<use href="#tr" x="308.6" y="215.6"/>
<use href="#tr" x="334.8" y="219.2"/>
<use href="#tr" x="356.1" y="222.7"/>
<use href="#tr" x="379.8" y="223.9"/>
<use href="#tr" x="402.2" y="226.3"/>
<use href="#tr" x="424.2" y="229.4"/>
<use href="#tr" x="446" y="232.9"/>
<use href="#tr" x="467.3" y="236.7"/>
<use href="#tr" x="488.6" y="240.7"/>
<use href="#tr" x="508.2" y="244"/>
<use href="#tr" x="533.5" y="247.6"/>
<use href="#tr" x="547.2" y="252.3"/>
<use href="#tr" x="569.7" y="257.3"/>
<use href="#tr" x="590.6" y="263.4"/>
<use href="#tr" x="610.3" y="270.1"/>
<use href="#tr" x="631.6" y="280.2"/>
<use href="#tr" x="651" y="292.5"/>
<use href="#tr" x="671.1" y="310.3"/>
<use href="#tr" x="690.9" y="328"/>
<use href="#tr" x="709.4" y="350"/>
<use href="#tr" x="726.4" y="368.7"/>
<use href="#tr" x="747.9" y="389.5"/>
<use href="#tr" x="767.6" y="412"/>
<use href="#tr" x="789.6" y="433.7"/>
<use href="#tr" x="811.3" y="455.3"/>
<use href="#tr" x="830.3" y="478.2"/>
<use href="#tr" x="852" y="502.3"/>
<use href="#tr" x="871" y="518.4"/>
<use href="#tr" x="890.8" y="534.3"/>
<use href="#tr" x="913.5" y="541.4"/>
<use href="#tr" x="938.4" y="550.9"/>
<use href="#tr" x="956.1" y="557.3"/>
<use href="#tr" x="974.3" y="563"/>
<use href="#tr" x="995.6" y="568.2"/>
<use href="#tr" x="1017.6" y="576.7"/>
<use href="#tr" x="1038.4" y="578.3"/>
<use href="#tr" x="1057.3" y="582.4"/>
<use href="#tr" x="1080.7" y="587.1"/>
<use href="#tr" x="1101.6" y="594.2"/>
<use href="#tr" x="1120.5" y="594.2"/>
<use href="#tr" x="1141.5" y="596.6"/>
<use href="#tr" x="1162.4" y="603.7"/>
<use href="#tr" x="1183.6" y="603.7"/>
<use href="#tr" x="1203.7" y="606.7"/>
<use href="#tr" x="1224.6" y="609.8"/>
<use href="#tr" x="1245.6" y="612.2"/>
<use href="#tr" x="1267.6" y="618.6"/>
<use href="#tr" x="1288" y="617.9"/>
<use href="#tr" x="1308.1" y="624.5"/>
<use href="#tr" x="1329.4" y="627.4"/>
<use href="#tr" x="1351.2" y="626.2"/>
<use href="#tr" x="1370.1" y="630.4"/>
<use href="#tr" x="1391.4" y="636.8"/>
<use href="#tr" x="1412" y="640.4"/>
<use href="#tr" x="1432.8" y="643.9"/>
<use href="#tr" x="1453.6" y="648.2"/>
<use href="#tr" x="1473" y="648.7"/>
<use href="#tr" x="1494.3" y="652.2"/>
<use href="#tr" x="1515.6" y="659.3"/>
<use href="#tr" x="1537.3" y="661.2"/>
<use href="#tr" x="1559.3" y="670.7"/>
<use href="#tr" x="1577.8" y="672.8"/>
<use href="#tr" x="1596" y="677.8"/>
<path d="M224.9,255 L225.1,255 L226.1,255.2 L227.1,255.3 L228.1,255.5 L229.2,255.6 L230.2,255.7 L231.2,255.9 L232.2,256 L233.2,256.2 L234.2,256.3 L235.2,256.5 L236.2,256.6 L237.3,256.8 L238.3,256.9 L239.3,257.1 L240.3,257.2 L241.3,257.4 L241.5,257.4 M259.3,260.4 L259.7,260.5 L260.7,260.7 L261.7,260.9 L262.2,261 M279.8,264.5 L279.9,264.6 L280.9,264.8 L281.9,265 L282.9,265.2 L283,265.2 M300.5,269.4 L300.5,269.4 L301.5,269.7 L302.5,270 L302.5,270 M388.4,289.4 L388.7,289.5 L389.6,289.8 L390.6,290.1 L390.9,290.2 M408,295.7 L408.3,295.8 L409.3,296.1 L410.3,296.4 L411.3,296.7 L412.3,297 L412.6,297.1 M429.8,302.5 L429.9,302.5 L430.9,302.9 L431.9,303.2 L432.8,303.5 L433.8,303.8 L434,303.9 M451,309.7 L451.1,309.8 L452.1,310.1 L452.2,310.2 M469.2,316.2 L469.3,316.3 L470.2,316.6 L471.2,316.9 L472.1,317.3 L473.1,317.6 L473.1,317.7 M489.6,324.9 L489.8,325 L490.7,325.5 L491.6,325.9 L492.5,326.4 L493.4,326.9 L493.6,327 M509.8,334.7 L509.9,334.7 L510.9,335.1 L511.8,335.5 L512.7,335.9 L513.6,336.3 L514.6,336.7 L514.7,336.7 M531,344.2 L531.4,344.4 L532.4,344.8 L533.3,345.3 L534.2,345.8 L535.2,346.2 L535.5,346.4 M551.2,355.3 L551.2,355.3 L552.1,355.8 L552.9,356.4 L553.8,356.9 L554.6,357.5 L555.4,358 L556.3,358.6 L556.3,358.6 M571.3,368.6 L571.4,368.6 L572.2,369.1 L573,369.7 L573.9,370.3 L574.7,370.8 L575.5,371.4 L576.4,371.9 L577.2,372.5 L577.3,372.5 M592.2,382.6 L592.4,382.7 L593.2,383.3 L594.1,383.9 L594.9,384.4 L595.8,385 L596.6,385.6 L597.4,386.2 L597.6,386.3 M611.6,397.6 L611.7,397.8 L612.5,398.5 L613.2,399.2 L614,399.9 L614.7,400.6 L615.4,401.4 L616.2,402.1 L616.9,402.8 L617.1,403 M629.3,416.2 L629.3,416.2 L630,416.9 L630.7,417.7 L631.3,418.5 L632,419.2 L632.6,420 L633.3,420.7 L633.9,421.5 L634.6,422.3 L635.2,423 L635.9,423.8 L636.5,424.6 L637.2,425.3 L637.8,426.1 L638.4,426.9 L639.1,427.6 L639.7,428.4 L640.3,429.2 L640.3,429.2 M651.5,443.3 L651.6,443.4 L652.2,444.2 L652.8,445 L653.4,445.8 L654,446.6 L654.6,447.4 L655.2,448.3 L655.8,449.1 L656.4,449.9 L657,450.7 L657.6,451.5 L658.2,452.3 L658.8,453.2 L659.4,454 L660,454.8 L660.6,455.6 L660.6,455.7 M671.2,470.3 L671.2,470.3 L671.8,471.1 L672.4,472 L673,472.8 L673.6,473.6 L674.2,474.4 L674.8,475.2 L675.4,476 L676,476.8 L676.6,477.7 L677.1,478.5 L677.7,479.3 L678.3,480.1 L678.9,480.9 L679.5,481.8 L680,482.6 L680.6,483.4 L681.2,484.3 L681.2,484.3 M690.9,499.4 L691,499.5 L691.5,500.4 L692,501.3 L692.6,502.2 L693.1,503 L693.6,503.9 L694.1,504.8 L694.6,505.6 L695.1,506.5 L695.6,507.4 L696.1,508.3 L696.6,509.1 L697.2,510 L697.7,510.9 L698.2,511.8 L698.7,512.7 L699.2,513.5 L699.7,514.4 L700.2,515.3 L700.7,516.2 L701.2,517.1 L701.7,517.9 L702.2,518.8 L702.7,519.7 L703.2,520.6 L703.2,520.7 M712.1,536.4 L712.2,536.6 L712.7,537.5 L713.2,538.4 L713.7,539.3 L714.1,540.2 L714.6,541.1 L715.1,542 L715.6,542.9 L716.1,543.8 L716.6,544.7 L717.1,545.6 L717.6,546.5 L718,547.4 L718.5,548.3 L719,549.2 L719.5,550.1 L720,551 L720.5,551.9 L721,552.8 L721.5,553.7 L722.1,554.6 L722.6,555.4 L722.7,555.6 M732.7,570.6 L733.3,571.4 L733.9,572.2 L734.5,572.9 L735.2,573.7 L735.8,574.5 L736.4,575.3 L737.1,576 L737.7,576.8 L738.3,577.6 L739,578.4 L739.6,579.1 L740.2,579.9 L740.9,580.7 L741.5,581.5 L741.5,581.5 M752.1,596 L752.2,596.2 L752.7,597.1 L753.3,597.9 L753.8,598.8 L754.4,599.6 L754.9,600.5 L755.5,601.4 L756,602.2 L756.5,603.1 L757.1,604 L757.6,604.8 L758.2,605.7 L758.7,606.6 L759.3,607.4 L759.8,608.3 L760.4,609.1 L761,610 L761.5,610.8 L762.1,611.7 L762.7,612.5 L762.8,612.7 M773.7,627 L773.7,627 L774.4,627.8 L775,628.5 L775.7,629.3 L776.3,630 L777,630.8 L777.7,631.5 L778.4,632.2 L779,633 L779.7,633.7 L780.4,634.5 L781.1,635.2 L781.8,635.9 L782.5,636.6 L782.5,636.6 M795.7,648.8 L795.8,648.9 L796.7,649.5 L797.5,650.2 L798.3,650.8 L799.1,651.4 L799.9,652 L800.7,652.6 L801.5,653.2 L801.6,653.3 M814.7,665.6 L814.9,665.9 L815.6,666.6 L816.2,667.4 L816.9,668.2 L817.6,669 L818.3,669.8 L818.9,670.6 L819.6,671.4 L820.3,672.1 L821,672.9 L821.7,673.7 L822.4,674.4 L822.6,674.6 M836.6,685.8 L836.9,686 L837.8,686.5 L838.7,687 L839.6,687.5 L840.6,687.9 L841.5,688.4 L841.9,688.6 M858.7,694.8 L858.8,694.8 L859.8,695.1 L860.8,695.3 L861.8,695.5 L862.8,695.8 L863.8,696 L863.8,696 M880,703.5 L880.2,703.6 L881,704.2 L881.8,704.9 L882.6,705.5 L883.4,706.1 L884.3,706.7 L884.4,706.7 M901.1,712 L901.5,712 L902.6,712 L903,712 M919.8,717 L920.1,717.1 L920.9,717.7 L921.8,718.3 L922.7,718.9 L923.5,719.5 L924.4,720.1 L924.6,720.3 M941.2,726.8 L941.2,726.8 L942.2,727 L943.2,727.1 L944.2,727.3 L945.2,727.4 L946.2,727.6 L947.2,727.7 L947.2,727.7 M964.8,731.5 L965,731.6 L965.9,731.9 L966.9,732.1 L967.9,732.4 L968.9,732.7 L969.9,733 L970.8,733.3 L971,733.3 M987.6,740.1 L987.7,740.1 L988.6,740.6 L988.7,740.6 M1005.4,747.3 L1005.8,747.4 L1006.2,747.5 M1024,749.4 L1024.3,749.4 L1025.4,749.3 L1026.4,749.3 L1027.4,749.2 L1028.5,749.2 L1029.5,749.1 L1030.6,749.1 L1030.8,749.1 M1047.9,753.5 L1048,753.5 L1048.9,754.1 L1048.9,754.1 M1066.1,758.4 L1066.7,758.3 L1067.3,758.3 M1084.3,752.7 L1084.6,752.6 L1085.6,752.1 L1086.5,751.6 L1087.4,751.1 L1088.3,750.6 L1089.2,750 L1090.1,749.5 L1090.9,748.9 L1091.7,748.3 L1091.8,748.2 M1102.3,733.8 L1102.4,733.7 L1102.8,732.8 L1103.2,731.9 L1103.6,731 L1104,730 L1104.4,729.1 L1104.8,728.2 L1105.1,727.2 L1105.5,726.3 L1105.9,725.3 L1106.2,724.4 L1106.6,723.4 L1106.9,722.5 L1107.2,721.5 L1107.6,720.5 L1107.9,719.6 L1108.2,718.6 L1108.5,717.6 L1108.9,716.7 L1109.2,715.7 L1109.5,714.7 L1109.8,713.7 L1110.1,712.8 L1110.4,711.8 L1110.8,710.8 L1111.1,709.8 L1111.4,708.9 L1111.7,707.9 L1112,706.9 L1112.3,706 L1112.7,705 L1113,704 L1113.3,703.1 L1113.7,702.1 L1114,701.1 L1114.3,700.2 L1114.7,699.2 L1115.1,698.3 L1115.4,697.3 L1115.8,696.4 L1116.2,695.4 L1116.6,694.5 L1117,693.6 L1117,693.5 M1125.7,677.7 L1125.8,677.5 L1126.4,676.6 L1127,675.8 L1127.6,674.9 L1128.2,674.1 L1128.8,673.2 L1129.5,672.4 L1130.1,671.6 L1130.8,670.8 L1131.5,670 L1132.1,669.2 L1132.8,668.5 L1133.5,667.7 L1134.3,667 L1135,666.3 L1135.7,665.6 L1136.5,664.9 L1137.3,664.3 L1137.3,664.2 M1153.3,656.1 L1153.4,656.1 L1154.3,655.8 L1155.3,655.5 L1156.2,655.2 L1157.2,654.9 L1158.2,654.6 L1159.2,654.4 L1160.1,654.1 L1161.1,653.9 L1162.1,653.6 L1163.1,653.4 L1164.1,653.2 L1165.1,653 L1166.1,652.8 L1167,652.6 L1168,652.4 L1169,652.2 L1170,652 L1171,651.8 L1172.1,651.6 L1173.1,651.5 L1174.1,651.3 L1175.1,651.1 L1176.1,651 L1177.1,650.8 L1178.1,650.7 L1179.1,650.5 L1180.1,650.4 L1181.1,650.2 L1182.2,650.1 L1183.2,650 L1184.2,649.8 L1185.2,649.7 L1186.2,649.6 L1187.2,649.4 L1188.2,649.3 L1189.3,649.2 L1190.3,649 L1191.3,648.9 L1192.3,648.8 L1193.3,648.6 L1194.3,648.5 L1195.3,648.4 L1196.4,648.2 L1196.5,648.2 M1214.3,645.7 L1214.5,645.7 L1215.6,645.6 L1216.6,645.6 L1216.8,645.6 M1234.8,645.5 L1234.9,645.5 L1235.9,645.6 L1236.9,645.7 L1236.9,645.7 M1254.6,643.5 L1254.8,643.5 L1255.8,643.1 L1256.7,642.8 L1257.7,642.5 L1258.7,642.2 L1258.8,642.2 M1276.6,641 L1276.7,641 L1277.7,641.2 L1278.7,641.4 L1279.7,641.6 L1280.7,641.8 L1280.8,641.8 M1298.6,644.3 L1298.9,644.4 L1299.9,644.5 L1300.1,644.5 M1318.1,644.3 L1318.1,644.3 L1319.1,644.2 L1320.1,644.1 L1321.1,644 L1322.1,643.8 L1322.1,643.8 M1340.1,644.1 L1340.4,644.2 L1341.5,644.3 L1342.5,644.5 L1343.5,644.7 L1343.9,644.7 M1361.7,647.7 L1361.7,647.7 L1362.7,647.9 L1363.7,648 L1364.7,648.2 L1364.7,648.2 M1382.5,651 L1382.9,651 L1384,651.2 L1384.4,651.2 M1402.3,653.1 L1402.4,653.1 L1403.4,653.2 L1404.5,653.2 L1405.5,653.3 L1405.6,653.3 M1423.6,654.7 L1423.9,654.7 L1424.9,654.8 L1425.9,654.9 L1426.3,654.9 M1444.1,657.5 L1444.3,657.5 L1445.3,657.7 L1446.3,657.9 L1446.5,658 M1464,662 L1464.1,662 L1465,662.3 L1466,662.5 L1467,662.7 L1467,662.8 M1484.7,665.6 L1485.2,665.6 L1486.2,665.7 L1487.3,665.8 L1487.7,665.8 M1505.7,667.3 L1506,667.4 L1507.1,667.5 L1508.1,667.6 L1509.1,667.7 L1509.5,667.7 M1527.2,670.9 L1527.2,671 L1528.2,671.2 L1529.2,671.5 L1529.2,671.5 M1546.9,674.7 L1547,674.8 L1548,674.8 L1549.1,674.9 L1549.2,675 M1567,677.6 L1567.2,677.7 L1568.2,677.9 L1569.2,678.1 L1569.5,678.1 M1587.1,681.9 L1587.3,681.9 L1588.3,682.1 L1589.3,682.3 L1590.3,682.5 L1591.3,682.8 L1591.5,682.8" fill="none" stroke="#000000" stroke-width="3" stroke-linejoin="round" stroke-linecap="butt"/>
<use href="#di" x="216" y="253.7"/>
<use href="#di" x="250.4" y="258.8"/>
<use href="#di" x="271" y="262.8"/>
<use href="#di" x="291.8" y="267.1"/>
<use href="#di" x="311.2" y="272.3"/>
<use href="#di" x="328.4" y="275.4"/>
<use href="#di" x="346.2" y="279.6"/>
<use href="#di" x="362.7" y="283.2"/>
<use href="#di" x="379.8" y="286.7"/>
<use href="#di" x="399.4" y="293.1"/>
<use href="#di" x="421.2" y="299.7"/>
<use href="#di" x="442.5" y="306.8"/>
<use href="#di" x="460.7" y="313.2"/>
<use href="#di" x="481.5" y="321"/>
<use href="#di" x="501.6" y="331"/>
<use href="#di" x="522.9" y="340.4"/>
<use href="#di" x="543.5" y="350.6"/>
<use href="#di" x="563.8" y="363.6"/>
<use href="#di" x="584.7" y="377.6"/>
<use href="#di" x="604.8" y="391.7"/>
<use href="#di" x="623.3" y="409.5"/>
<use href="#di" x="646" y="436.2"/>
<use href="#di" x="665.9" y="463"/>
<use href="#di" x="686.2" y="491.8"/>
<use href="#di" x="707.7" y="528.5"/>
<use href="#di" x="727.4" y="563.3"/>
<use href="#di" x="747" y="588.6"/>
<use href="#di" x="768" y="620"/>
<use href="#di" x="788.9" y="643"/>
<use href="#di" x="808.5" y="659.1"/>
<use href="#di" x="829.1" y="680.8"/>
<use href="#di" x="850.1" y="692.2"/>
<use href="#di" x="872.4" y="698.8"/>
<use href="#di" x="892.2" y="711.1"/>
<use href="#di" x="911.9" y="712.8"/>
<use href="#di" x="932.5" y="724.6"/>
<use href="#di" x="956.1" y="729.3"/>
<use href="#di" x="979.5" y="736.2"/>
<use href="#di" x="996.8" y="744.5"/>
<use href="#di" x="1015" y="749.2"/>
<use href="#di" x="1039.8" y="749.7"/>
<use href="#di" x="1057.1" y="757.8"/>
<use href="#di" x="1076" y="756.3"/>
<use href="#di" x="1098" y="741.7"/>
<use href="#di" x="1121" y="685.4"/>
<use href="#di" x="1144.9" y="659.4"/>
<use href="#di" x="1205.4" y="646.8"/>
<use href="#di" x="1225.8" y="645.2"/>
<use href="#di" x="1245.9" y="645.6"/>
<use href="#di" x="1267.6" y="640.4"/>
<use href="#di" x="1289.7" y="643.3"/>
<use href="#di" x="1309.1" y="645"/>
<use href="#di" x="1331.1" y="643.3"/>
<use href="#di" x="1352.8" y="646.2"/>
<use href="#di" x="1373.6" y="649.7"/>
<use href="#di" x="1393.3" y="652.3"/>
<use href="#di" x="1414.6" y="654"/>
<use href="#di" x="1435.2" y="655.9"/>
<use href="#di" x="1455.3" y="659.9"/>
<use href="#di" x="1475.8" y="664.6"/>
<use href="#di" x="1496.7" y="666.5"/>
<use href="#di" x="1518.4" y="668.9"/>
<use href="#di" x="1538" y="673.6"/>
<use href="#di" x="1558.1" y="676"/>
<use href="#di" x="1578.3" y="680"/>
<use href="#di" x="1600.3" y="684.7"/>
<path d="M221,169C230.8,169 240.6,169 250.4,169C267.3,169 284.1,169 301,169C320,169 339,169 358,169C375.3,169 392.5,169.1 409.8,169.2C426.5,169.3 443.3,169.3 460,169.5C469.9,169.6 479.9,169.7 489.8,170C498.1,170.2 506.5,170.8 514.8,171C524.6,171.3 534.4,171.2 544.2,171.5C553,171.7 561.9,172.2 570.7,172.5C579.4,172.7 588.2,172.9 596.9,173C605.3,173.1 613.7,173 622.1,173C631.7,173 641.4,173.1 651,173.2C661.2,173.3 671.5,173 681.7,173.4C691.2,173.7 700.7,174.4 710.1,175.3C719.4,176.2 728.7,177.4 738,178.9C748.5,180.6 759.1,181.7 769.2,185C778.5,188.1 787.6,192.4 795.7,198C800.4,201.3 803.7,206.3 807,211C810.3,215.6 812.9,220.6 815.4,225.7C819.2,233.4 823.1,241.2 826,249.3C829.4,258.6 831.2,268.3 834.3,277.7C837.5,287.3 841.7,296.5 844.9,306.1C848,315.2 851.1,324.4 853.2,333.8C856.2,347.3 858,361 860.3,374.7C862.8,389.7 865,404.7 867.4,419.7C870.8,441.4 874.3,463 877.6,484.7C879.4,496.5 881,508.2 882.8,520C884.3,530 886,540 887.5,550C888.4,555.8 888.9,561.6 889.9,567.3C892.5,583.1 895.4,598.8 898.2,614.6C900.9,630.4 903.6,646.1 906.4,661.9C908.9,675.9 911,690.1 914.2,704C916.5,713.8 920,723.3 923,732.9C927.1,746.3 930.7,759.9 935.5,773.1C937.9,779.6 941,785.9 944.3,792C947.4,797.8 951.1,803.3 954.9,808.6C959,814.3 963.2,819.9 967.9,825.1C970.7,828.2 974.2,830.7 977.4,833.4C983.7,838.7 989.4,844.6 996.3,849.1C1001.9,852.8 1008.2,855.2 1014.5,857.6C1021.4,860.2 1028.6,862.4 1035.8,864C1043.6,865.7 1051.5,867.8 1059.5,867.5C1066.9,867.2 1074.6,866 1081,862.3C1088.8,857.8 1094.2,849.9 1100.9,843.9C1107.5,838 1116.3,834.1 1121,826.6C1130.8,811.1 1136.2,793.2 1143.4,776.4C1150.2,760.6 1156.6,744.6 1163.1,728.7C1170,711.9 1176.5,695 1183.6,678.3C1187.3,669.5 1191.4,660.9 1195.5,652.3C1198.5,645.9 1200.7,639 1204.9,633.3C1207.9,629.3 1212.4,626.4 1216.8,623.9C1219.8,622.2 1223.3,621.4 1226.7,621C1233.1,620.2 1240.2,623.2 1245.9,620.3C1254.4,615.9 1259.9,607.2 1266.7,600.3C1273.5,593.4 1279.5,585.6 1286.6,579C1293.3,572.7 1300.6,567 1308.1,561.7C1314.3,557.3 1320.5,552.7 1327.5,549.9C1334.2,547.2 1342.2,548.3 1348.8,545.2C1356.5,541.6 1361.5,533 1369.6,530.3C1376.5,528 1384.1,530.5 1391.4,531C1397.9,531.5 1404.3,533.9 1410.8,533.3C1418.4,532.6 1425.3,528.8 1432.8,527.4C1440,526 1447.5,525.7 1454.8,525C1461.8,524.3 1468.8,524.4 1475.8,523.4C1482.7,522.4 1489.3,519.5 1496.2,519.1C1502.9,518.7 1509.6,520.2 1516.3,520.8C1523.2,521.4 1530,522.4 1536.9,522.7C1544,523 1551.1,522.1 1558.1,522.7C1565.4,523.3 1572.8,524.3 1579.9,526.2C1587.5,528.2 1594.6,531.8 1601.9,534.5C1602.9,534.9 1604,535.2 1605,535.5" fill="none" stroke="#ff00ff" stroke-width="3.5" stroke-linejoin="round" stroke-linecap="butt"/>
<use href="#pl" x="250.4" y="168.5"/>
<use href="#pl" x="275.7" y="168.5"/>
<use href="#pl" x="301" y="168.5"/>
<use href="#pl" x="330.8" y="168.5"/>
<use href="#pl" x="358" y="168.5"/>
<use href="#pl" x="381.7" y="168.6"/>
<use href="#pl" x="409.8" y="168.7"/>
<use href="#pl" x="431.8" y="168.8"/>
<use href="#pl" x="460" y="169"/>
<use href="#pl" x="489.8" y="169.5"/>
<use href="#pl" x="514.8" y="170.5"/>
<use href="#pl" x="544.2" y="171"/>
<use href="#pl" x="570.7" y="172"/>
<use href="#pl" x="596.9" y="172.5"/>
<use href="#pl" x="622.1" y="172.5"/>
<use href="#pl" x="651" y="172.7"/>
<use href="#pl" x="681.7" y="172.9"/>
<use href="#pl" x="710.1" y="174.8"/>
<use href="#pl" x="738" y="178.4"/>
<use href="#pl" x="769.2" y="184.5"/>
<use href="#pl" x="795.7" y="197.5"/>
<use href="#pl" x="815.4" y="225.2"/>
<use href="#pl" x="826" y="248.8"/>
<use href="#pl" x="834.3" y="277.2"/>
<use href="#pl" x="853.2" y="333.3"/>
<use href="#pl" x="877.6" y="484.2"/>
<use href="#pl" x="898.2" y="614.1"/>
<use href="#pl" x="914.2" y="703.5"/>
<use href="#pl" x="935.5" y="772.6"/>
<use href="#pl" x="954.9" y="808.1"/>
<use href="#pl" x="977.4" y="832.9"/>
<use href="#pl" x="996.3" y="848.6"/>
<use href="#pl" x="1014.5" y="857.1"/>
<use href="#pl" x="1035.8" y="863.5"/>
<use href="#pl" x="1059.5" y="867"/>
<use href="#pl" x="1081" y="861.8"/>
<use href="#pl" x="1100.9" y="843.4"/>
<use href="#pl" x="1121" y="826.1"/>
<use href="#pl" x="1143.4" y="775.9"/>
<use href="#pl" x="1163.1" y="728.2"/>
<use href="#pl" x="1204.5" y="628.1"/>
<use href="#pl" x="1226.7" y="620.5"/>
<use href="#pl" x="1245.9" y="623.8"/>
<use href="#pl" x="1266.7" y="599.8"/>
<use href="#pl" x="1286.6" y="578.5"/>
<use href="#pl" x="1308.1" y="561.2"/>
<use href="#pl" x="1327.5" y="549.4"/>
<use href="#pl" x="1348.8" y="544.7"/>
<use href="#pl" x="1369.6" y="529.8"/>
<use href="#pl" x="1391.4" y="530.5"/>
<use href="#pl" x="1410.8" y="532.8"/>
<use href="#pl" x="1432.8" y="526.9"/>
<use href="#pl" x="1454.8" y="524.5"/>
<use href="#pl" x="1475.8" y="522.9"/>
<use href="#pl" x="1496.2" y="518.6"/>
<use href="#pl" x="1516.3" y="520.3"/>
<use href="#pl" x="1536.9" y="522.2"/>
<use href="#pl" x="1558.1" y="522.2"/>
<use href="#pl" x="1579.9" y="525.7"/>
<use href="#pl" x="1601.9" y="534"/>
<path d="M221,198C237.7,197.8 254.3,197.7 271,197.5C281,197.4 291,197 301,197C320.2,197 339.3,197.3 358.5,197.5C378,197.7 397.5,197.8 417,198C435.5,198.2 454,198.3 472.5,198.5C492.3,198.7 512.2,198.9 532,199C548,199.1 564,199 580,199.2C595,199.4 609.9,199.8 624.9,200.4C634.8,200.8 644.6,201.5 654.5,202C664.9,202.5 675.3,202.6 685.7,203.2C695.8,203.8 705.9,204.9 716,205.6C725.3,206.3 734.6,206.4 743.9,207.5C752.9,208.6 762.2,209 770.7,212C777.4,214.4 783,219.1 788.6,223.3C795.1,228.2 802.4,232.7 807.1,239.4C811.9,246.1 813.4,254.7 816.5,262.4C821.4,274.4 826.5,286.2 831.2,298.3C835.2,308.7 839.3,319.1 842.6,329.8C846.3,341.8 849.5,354.1 852,366.4C855.4,383.2 858,400.3 860.3,417.3C864.2,445.6 866.6,474.2 870.5,502.5C871.3,508.4 873.4,514.1 874.5,520C876.3,530 877.4,540 879.2,550C880.9,559.7 883.7,569.3 885.1,579.1C888.2,599.9 889.9,620.9 892.7,641.8C894.7,656.4 896.9,671 899.3,685.6C901.4,698.2 904.3,710.8 906.4,723.4C909,739.1 910.5,755 913.5,770.7C915.6,781.9 918.5,793 921.8,803.9C924,811.2 927.6,817.9 930.1,825.1C931.7,829.9 932.1,835.1 934.1,839.8C936.9,846.3 940.8,852.2 944.3,858.3C947.6,864.1 950.6,870.1 954.5,875.5C958.5,881.1 963.1,886.4 967.9,891.4C970.9,894.5 974.4,897.2 977.8,899.9C984.1,905 990.1,910.4 996.8,914.8C1002.6,918.6 1008.8,921.6 1015.2,924.3C1021.9,927.1 1028.7,929.7 1035.8,931.4C1044.1,933.4 1052.6,935 1061.1,935.6C1067.6,936.1 1074.2,934.6 1080.7,934.5C1086.6,934.4 1092.6,935.5 1098.5,934.9C1106,934.1 1113.4,932.5 1120.5,930.2C1127.8,927.9 1135,925.2 1141.5,921.2C1148.9,916.7 1154.5,909.6 1161.9,905C1168.1,901.1 1176.1,900.5 1181.8,896C1190.2,889.3 1195.8,879.6 1203.3,872C1210.7,864.5 1219.1,857.9 1226.7,850.5C1233.3,844.1 1240.5,838.1 1245.9,830.7C1251.7,822.8 1254.7,813.2 1260,805C1263.8,799.2 1267.5,792.9 1273.1,788.8C1277.3,785.8 1283,785.9 1288,784.8C1294,783.5 1300.3,783.3 1306.2,781.7C1311,780.4 1315.8,778.7 1320,776C1325.3,772.6 1329.1,767.3 1334.1,763.5C1374.6,732.4 1415.1,701.2 1456.4,671.2C1462.9,666.5 1470.9,664.1 1477.3,659.4C1484.1,654.4 1489.1,647.2 1495.9,642.1C1502.2,637.4 1508.6,632 1516.3,630.3C1522,629.1 1527.8,635.8 1533.3,633.9C1542.6,630.6 1548.3,620.7 1557,616.1C1561.2,613.9 1566.4,613.9 1571.2,613.8C1573.8,613.7 1576.2,615 1578.7,615.6" fill="none" stroke="#000000" stroke-width="3.3" stroke-linejoin="round" stroke-linecap="butt"/>
<use href="#st" x="226" y="198.4"/>
<use href="#st" x="271" y="198"/>
<use href="#st" x="301" y="197.5"/>
<use href="#st" x="332.5" y="197.8"/>
<use href="#st" x="358.5" y="198"/>
<use href="#st" x="387.3" y="198.2"/>
<use href="#st" x="417.1" y="198.5"/>
<use href="#st" x="443.6" y="198.7"/>
<use href="#st" x="472.5" y="199"/>
<use href="#st" x="504" y="199.3"/>
<use href="#st" x="532.3" y="199.5"/>
<use href="#st" x="563.8" y="199.6"/>
<use href="#st" x="594.2" y="200.1"/>
<use href="#st" x="624.9" y="200.9"/>
<use href="#st" x="654.5" y="202.5"/>
<use href="#st" x="685.7" y="203.7"/>
<use href="#st" x="716" y="206.1"/>
<use href="#st" x="743.9" y="208"/>
<use href="#st" x="770.7" y="212.5"/>
<use href="#st" x="788.6" y="223.8"/>
<use href="#st" x="807.1" y="239.9"/>
<use href="#st" x="816.5" y="262.9"/>
<use href="#st" x="831.2" y="298.8"/>
<use href="#st" x="852" y="366.9"/>
<use href="#st" x="870.5" y="503"/>
<use href="#st" x="892.7" y="642.3"/>
<use href="#st" x="913.5" y="771.2"/>
<use href="#st" x="934.1" y="840.3"/>
<use href="#st" x="954.5" y="876"/>
<use href="#st" x="977.4" y="900.1"/>
<use href="#st" x="996.8" y="915.3"/>
<use href="#st" x="1015.2" y="924.8"/>
<use href="#st" x="1035.8" y="931.9"/>
<use href="#st" x="1061.1" y="936.1"/>
<use href="#st" x="1080.7" y="933.5"/>
<use href="#st" x="1098.5" y="935.4"/>
<use href="#st" x="1120.5" y="930.7"/>
<use href="#st" x="1141.5" y="921.7"/>
<use href="#st" x="1161.9" y="901.8"/>
<use href="#st" x="1181.8" y="900.4"/>
<use href="#st" x="1203.3" y="870.4"/>
<use href="#st" x="1226.7" y="851"/>
<use href="#st" x="1245.1" y="832"/>
<use href="#st" x="1266" y="786.9"/>
<use href="#st" x="1288" y="785.3"/>
<use href="#st" x="1315.2" y="778.5"/>
<use href="#st" x="1334.1" y="764"/>
<use href="#st" x="1456.4" y="665.8"/>
<use href="#st" x="1477.3" y="659.9"/>
<use href="#st" x="1495.9" y="636"/>
<use href="#st" x="1516.3" y="629.2"/>
<use href="#st" x="1538.5" y="637.9"/>
<use href="#st" x="1557" y="611.9"/>
<use href="#st" x="1578.7" y="616.1"/>
</g>
<g id="tan-delta">
<path d="M221,2033 L222,2033.1 L223,2033.2 L224,2033.3 L225,2033.5 L226,2033.6 L227,2033.7 L228,2033.8 L229,2033.9 L229.9,2034 L230.9,2034.2 L231.9,2034.3 L232.9,2034.4 L233.9,2034.5 L234.5,2034.6 M247.4,2036.2 L247.8,2036.3 L248.8,2036.4 L249.8,2036.5 L250.8,2036.6 L251.8,2036.7 L252.8,2036.9 L253.8,2037 L254.8,2037.1 L255.8,2037.2 L256.8,2037.4 L257.8,2037.5 L258.8,2037.6 L259.8,2037.7 L260.8,2037.8 L261.3,2037.9 M274.3,2039.4 L274.7,2039.4 L275.7,2039.5 L276.7,2039.6 L277.7,2039.8 L278.7,2039.9 L279.6,2040 L280.6,2040.1 L281.6,2040.2 L282.6,2040.3 L283.6,2040.4 L284.6,2040.4 L285.6,2040.5 L286.6,2040.6 L287.6,2040.7 L288.1,2040.8 M301.1,2041.8 L301.6,2041.8 L302.6,2041.9 L303.6,2041.9 L304.6,2042 L305.6,2042.1 L306.6,2042.1 L307.6,2042.2 L308.7,2042.2 L309.7,2042.3 L310.7,2042.3 L311.7,2042.4 L312.7,2042.4 L313.7,2042.5 L314.7,2042.5 L314.9,2042.6 M327.9,2043.1 L328.7,2043.1 L329.8,2043.2 L330.8,2043.2 L331.8,2043.3 L332.8,2043.3 L333.8,2043.3 L334.8,2043.4 L335.8,2043.4 L336.8,2043.4 L337.8,2043.5 L338.8,2043.5 L339.8,2043.5 L340.8,2043.6 L341.7,2043.6 M354.7,2044 L354.9,2044 L355.9,2044.1 L356.9,2044.1 L357.9,2044.1 L358.9,2044.2 L359.9,2044.2 L360.9,2044.2 L361.9,2044.3 L362.9,2044.3 L363.9,2044.3 L364.9,2044.4 L366,2044.4 L367,2044.5 L368,2044.5 L368.5,2044.5 M381.5,2045.1 L382.1,2045.1 L383.1,2045.2 L384.1,2045.2 L385.1,2045.3 L386.1,2045.3 L387.1,2045.4 L388.2,2045.4 L389.2,2045.5 L390.2,2045.6 L391.2,2045.6 L392.2,2045.7 L393.2,2045.7 L394.1,2045.8 M407.1,2046.5 L407.4,2046.5 L408.4,2046.5 L409.4,2046.6 L410.4,2046.6 L411.4,2046.7 L412.4,2046.8 L413.4,2046.8 L414.5,2046.9 L415.5,2046.9 L416.5,2047 L417.5,2047 L418.5,2047.1 L419.5,2047.1 L419.8,2047.1 M432.8,2047.8 L433.7,2047.8 L434.7,2047.8 L435.7,2047.9 L436.7,2047.9 L437.7,2048 L438.7,2048 L439.8,2048 L440.8,2048.1 L441.8,2048.1 L442.8,2048.1 L443.8,2048.2 L444.8,2048.2 L445.4,2048.2 M458.4,2048.5 L459,2048.5 L460,2048.6 L461,2048.6 L462,2048.6 L463,2048.6 L464,2048.6 L465.1,2048.6 L466.1,2048.6 L467.1,2048.6 L468.1,2048.6 L469.1,2048.6 L470.1,2048.6 L471,2048.7 M484,2048.6 L484.3,2048.6 L485.3,2048.6 L486.3,2048.6 L487.3,2048.6 L488.3,2048.6 L489.3,2048.6 L490.3,2048.6 L491.4,2048.6 L492.4,2048.6 L493.4,2048.6 L494.4,2048.6 L495.4,2048.6 L496.4,2048.6 L496.7,2048.6 M509.7,2048.5 L510.6,2048.5 L511.6,2048.5 L512.6,2048.5 L513.6,2048.4 L514.6,2048.4 L515.6,2048.4 L516.7,2048.4 L517.7,2048.4 L518.7,2048.4 L519.7,2048.4 L520.7,2048.4 L521.7,2048.4 L522.3,2048.4 M535.3,2048.4 L535.9,2048.4 L536.9,2048.4 L537.9,2048.4 L538.9,2048.4 L539.9,2048.4 L540.9,2048.4 L542,2048.4 L543,2048.5 L544,2048.5 L545,2048.5 L546,2048.5 L547,2048.5 L548,2048.5 L548.3,2048.5 M561.3,2048.6 L562.2,2048.6 L563.2,2048.6 L564.2,2048.6 L565.2,2048.6 L566.2,2048.6 L567.2,2048.6 L568.3,2048.6 L569.3,2048.6 L570.3,2048.6 L571.3,2048.6 L572.3,2048.7 L573.3,2048.7 L574.2,2048.7 M587.2,2048.7 L587.5,2048.7 L588.5,2048.7 L589.5,2048.7 L590.5,2048.7 L591.5,2048.7 L592.5,2048.7 L593.5,2048.7 L594.6,2048.6 L595.6,2048.6 L596.6,2048.6 L597.6,2048.6 L598.6,2048.6 L599.6,2048.6 L600.2,2048.6 M613.2,2048.4 L613.7,2048.4 L614.7,2048.3 L615.8,2048.3 L616.8,2048.3 L617.8,2048.3 L618.8,2048.3 L619.8,2048.2 L620.8,2048.2 L621.8,2048.2 L622.8,2048.2 L623.8,2048.1 L624.8,2048.1 L625.8,2048.1 L626,2048.1 M639,2047.7 L639.9,2047.7 L640.9,2047.7 L641.9,2047.6 L642.9,2047.6 L643.9,2047.6 L644.9,2047.5 L645.9,2047.5 L646.9,2047.5 L647.9,2047.4 L648.9,2047.4 L649.9,2047.4 L650.9,2047.3 L651.8,2047.3 M664.8,2046.7 L665,2046.7 L666,2046.7 L667,2046.6 L668,2046.6 L669,2046.5 L670,2046.5 L671,2046.4 L672,2046.4 L673.1,2046.3 L674.1,2046.3 L675.1,2046.2 L676.1,2046.2 L677.1,2046.1 L677.6,2046.1 M690.6,2045.3 L691.1,2045.2 L692.1,2045.2 L693.1,2045.1 L694.1,2045 L695.1,2045 L696.1,2044.9 L697.1,2044.8 L698.1,2044.7 L699.1,2044.7 L700.1,2044.6 L701.1,2044.5 L702.1,2044.4 L703.1,2044.3 L703.6,2044.3 M716.6,2042.9 L717.1,2042.9 L718.1,2042.7 L719.1,2042.6 L720.1,2042.5 L721.1,2042.3 L722.1,2042.2 L723.1,2042.1 L724.1,2041.9 L725,2041.8 L726,2041.6 L727,2041.5 L728,2041.3 L729,2041.2 L729.7,2041 M742.4,2038.2 L742.7,2038.1 L743.7,2037.9 L744.7,2037.6 L745.6,2037.3 L746.6,2037.1 L747.6,2036.8 L748.5,2036.5 L749.5,2036.2 L750.5,2036 L751.4,2035.7 L752.4,2035.4 L753.4,2035.1 L754.3,2034.8 L755.3,2034.6 L755.8,2034.4" fill="none" stroke="#000000" stroke-width="4" stroke-linejoin="round" stroke-linecap="butt"/>
<path d="M762.1,2032.7C766.4,2031.1 770.9,2030 775,2028C778.9,2026.1 782.5,2023.6 786,2021C789.6,2018.3 793.4,2015.6 796,2012C800.2,2006.2 803.2,1999.6 806,1993C809.4,1984.9 811.9,1976.4 814.5,1968C817.4,1958.5 819.9,1948.8 822.5,1939.2C827.2,1921.9 832.5,1904.7 836.5,1887.2C839.7,1873.1 841.7,1858.8 844,1844.6C846.5,1828.9 848.8,1813.1 851,1797.3C853.2,1781.6 855.5,1765.8 857,1750C859.2,1727.1 860.3,1704.1 862.2,1681.2C863.8,1661.5 865.7,1641.7 867.6,1622C869.5,1602.3 871.7,1582.6 873.5,1562.9C875.3,1543.2 877,1523.5 878.3,1503.8C880.1,1476.2 881.3,1448.6 883,1421C884.3,1399 886,1377 887.2,1355C888.8,1325.8 889.9,1296.7 891.3,1267.5C892.4,1243.8 893.6,1220.2 894.8,1196.5C896,1172.9 897.2,1149.2 898.4,1125.6C899.6,1101.9 900.6,1078.3 901.9,1054.6C903.2,1031.6 904.8,1008.5 906.2,985.5" fill="none" stroke="#000000" stroke-width="3.6" stroke-linejoin="round" stroke-linecap="butt"/>
<path d="M906.2,985.5 L916,1026 L926.8,1070" fill="none" stroke="#000000" stroke-width="3.6" stroke-linejoin="round" stroke-linecap="butt"/>
<path d="M929.1,1089C930.3,1109.1 931.4,1129.1 932.7,1149.2C934.2,1172.9 935.8,1196.5 937.4,1220.2C939,1243.9 940.3,1267.5 942.1,1291.2C943.7,1312.5 945.7,1333.7 947.4,1355C948.9,1373 950.3,1391.1 951.6,1409.1C953.3,1432.8 954.8,1456.4 956.3,1480.1C958,1507.7 959.2,1535.3 961.1,1562.9C962.7,1586.6 964.6,1610.3 967,1633.9C969,1653.6 971.5,1673.3 974.1,1693C976.6,1712 979.3,1731 982.4,1750C985.6,1770 988.9,1790.1 993,1810C996.8,1828.5 1000.7,1846.9 1006,1865C1010.6,1880.6 1015.9,1896.1 1022.8,1910.9C1028.6,1923.4 1037,1934.5 1044,1946.3C1049.2,1955 1053.6,1964.1 1059.5,1972.4C1063.2,1977.6 1067.7,1982.3 1072.5,1986.5C1079.5,1992.6 1087,1998.3 1095,2003C1103.2,2007.8 1112.3,2010.9 1121,2014.9" fill="none" stroke="#000000" stroke-width="3.6" stroke-linejoin="round" stroke-linecap="butt"/>
<path d="M1127.3,2016.5 L1128,2016.7 L1129,2016.9 L1130,2017.2 L1131,2017.5 L1132,2017.7 L1133,2018 L1134,2018.3 L1135,2018.5 L1135.6,2018.7 M1148.2,2021.6 L1149,2021.8 L1150,2022 L1151,2022.2 L1152,2022.4 L1153,2022.6 L1154,2022.8 L1155.1,2023 L1156.1,2023.2 L1156.3,2023.2 M1169.1,2025.5 L1169.3,2025.5 L1170.3,2025.7 L1171.3,2025.8 L1172.3,2026 L1173.4,2026.1 L1174.4,2026.2 L1175.4,2026.3 L1176.4,2026.4 L1177.1,2026.5 M1190,2025.7 L1190.6,2025.5 L1191.6,2025.1 L1192.5,2024.7 L1193.5,2024.2 L1194.3,2023.7 L1195.2,2023.1 L1196,2022.5 L1196.8,2021.8 L1197.5,2021.1 L1198.2,2020.4 L1198.8,2019.5 L1199.4,2018.7 L1199.9,2017.8 L1200.5,2017 L1200.7,2016.6 M1208.5,2006.3 L1208.6,2006.1 L1209.4,2005.4 L1210.2,2004.7 L1211,2004 L1211.8,2003.3 L1212.7,2002.7 L1213.5,2002.1 L1214.4,2001.5 L1215.3,2001 L1216.2,2000.5 L1217.1,2000.1 L1218.1,1999.8 L1218.4,1999.7 M1230.9,1996.5 L1231.1,1996.5 L1232,1996 L1232.9,1995.4 L1233.8,1994.7 L1234.6,1994 L1235.3,1993.2 L1236.1,1992.3 L1236.8,1991.5 L1237.5,1990.6 L1238.3,1989.8 L1239,1989 L1239.7,1988.2 L1240.3,1987.4 L1240.6,1986.9 M1251.5,1981.1 L1251.5,1981.1 L1252.6,1981.1 L1253.7,1981.2 L1254.8,1981.3 L1255.9,1981.4 L1257,1981.5 L1258,1981.6 L1259.1,1981.8 L1260,1982 M1271.5,1987.6 L1272,1988.1 L1272.8,1988.7 L1273.5,1989.4 L1274.3,1990.1 L1275,1990.9 L1275.7,1991.6 L1276.4,1992.3 L1277.2,1993.1 L1277.9,1993.8 L1278.6,1994.5 L1279.3,1995.3 L1280,1996 L1280.7,1996.7 L1281.5,1997.5 L1282.2,1998.2 L1282.8,1998.9 M1291.6,2008.5 L1292,2009 L1292.7,2009.8 L1293.4,2010.6 L1294.1,2011.4 L1294.7,2012.1 L1295.4,2012.9 L1296.1,2013.7 L1296.8,2014.5 L1297.4,2015.3 L1298.1,2016.1 L1298.8,2016.9 L1299.4,2017.7 L1300.1,2018.5 L1300.7,2019.4 L1301.4,2020.2 L1302,2021 L1302.6,2021.8 L1303.1,2022.8 L1303.6,2023.7 L1304.1,2024.7 L1304.4,2025.3 M1314.2,2033.1 L1314.7,2033.3 L1315.7,2033.7 L1316.6,2034.1 L1317.5,2034.5 L1318.5,2034.8 L1319.4,2035.2 L1320.4,2035.5 L1321.4,2035.8 L1322.3,2036.2 L1323.3,2036.5 L1323.3,2036.5 M1335.8,2040 L1336,2040.1 L1337,2040.3 L1338,2040.5 L1339,2040.8 L1340,2041 L1341,2041.2 L1342,2041.4 L1343,2041.7 L1343.9,2041.9 L1344.4,2041.9 M1357.2,2044 L1357.9,2044.1 L1358.9,2044.2 L1359.9,2044.3 L1360.9,2044.4 L1361.9,2044.5 L1362.9,2044.6 L1363.9,2044.7 L1364.9,2044.7 L1365.5,2044.8 M1378.5,2045.5 L1379,2045.5 L1380,2045.5 L1381,2045.6 L1382,2045.6 L1383,2045.6 L1384,2045.6 L1385,2045.7 L1386,2045.7 L1386.6,2045.7 M1399.6,2045.8 L1400.1,2045.8 L1401.1,2045.8 L1402.1,2045.8 L1403.1,2045.8 L1404.1,2045.8 L1405.1,2045.8 L1406.1,2045.8 L1407.1,2045.8 L1407.6,2045.8 M1420.6,2045.7 L1421.2,2045.7 L1422.2,2045.7 L1423.2,2045.7 L1424.2,2045.7 L1425.2,2045.7 L1426.2,2045.7 L1427.2,2045.7 L1428.2,2045.7 L1428.7,2045.7 M1441.7,2045.7 L1442.2,2045.7 L1443.3,2045.7 L1444.3,2045.7 L1445.3,2045.7 L1446.3,2045.7 L1447.3,2045.7 L1448.3,2045.7 L1449.3,2045.7 L1449.8,2045.7 M1462.8,2045.8 L1463.4,2045.8 L1464.4,2045.8 L1465.4,2045.8 L1466.4,2045.8 L1467.4,2045.8 L1468.4,2045.8 L1469.4,2045.8 L1470.4,2045.8 L1471,2045.8 M1484,2045.7 L1484.5,2045.7 L1485.5,2045.7 L1486.5,2045.7 L1487.5,2045.7 L1488.5,2045.7 L1489.5,2045.7 L1490.5,2045.7 L1491.6,2045.7 L1492.1,2045.7 M1505.1,2045.7 L1505.6,2045.7 L1506.7,2045.7 L1507.7,2045.6 L1508.7,2045.6 L1509.7,2045.6 L1510.7,2045.6 L1511.6,2045.6 M1524.6,2045.5 L1524.8,2045.5 L1525.8,2045.5 L1526.8,2045.5 L1527.8,2045.5 L1528.8,2045.5 L1529.8,2045.4 L1530.8,2045.4 L1531,2045.4 M1544,2045.3 L1544.9,2045.3 L1545.9,2045.3 L1546.9,2045.3 L1547.9,2045.3 L1548.9,2045.3 L1550,2045.3 L1550.5,2045.2 M1563.5,2045.2 L1564,2045.2 L1565,2045.2 L1566,2045.1 L1567,2045.1 L1568,2045.1 L1569,2045.1 L1570,2045.1 M1583,2045.1 L1583,2045.1 L1584,2045.1 L1585,2045.1 L1586,2045.1 L1587,2045.1 L1588,2045.1 L1589,2045.1 L1589.4,2045.1 M1602.4,2045 L1603,2045 L1604,2045" fill="none" stroke="#000000" stroke-width="4" stroke-linejoin="round" stroke-linecap="butt"/>
<use href="#sq_b" x="294.6" y="2041.3"/>
<use href="#sq_b" x="375" y="2044.8"/>
<use href="#sq_b" x="451.9" y="2048.4"/>
<use href="#sq_b" x="528.8" y="2048.4"/>
<use href="#sq_b" x="606.7" y="2048.5"/>
<use href="#sq_b" x="684.1" y="2045.7"/>
<use href="#sq_b" x="762.1" y="2032.7"/>
<use href="#sq_b" x="814.9" y="1967.6"/>
<use href="#sq_b" x="878.7" y="1512.7"/>
<use href="#sq_b" x="949.7" y="1393.1"/>
<use href="#sq_b" x="998.7" y="1848.2"/>
<use href="#sq_b" x="1059.5" y="1972.4"/>
<use href="#sq_b" x="1121" y="2014.9"/>
<use href="#sq_b" x="1183.6" y="2026.8"/>
<use href="#sq_b" x="1245.1" y="1982.3"/>
<use href="#sq_b" x="1308.3" y="2030.3"/>
<use href="#sq_b" x="1372" y="2045.2"/>
<use href="#sq_b" x="1435.2" y="2045.7"/>
<use href="#sq_b" x="1498.6" y="2045.7"/>
<use href="#sq_b" x="1557" y="2045.2"/>
<path d="M221,2022.2C230.7,2022.7 240.3,2023.6 250,2023.7C263.7,2023.9 277.4,2023.4 291.1,2023.1C309,2022.8 326.9,2022.8 344.8,2021.9C362.8,2021 380.7,2019.1 398.7,2017.6C419.2,2015.9 439.7,2014.5 460.2,2012.4C481.1,2010.2 502,2007.5 522.9,2004.6C542.7,2001.8 562.7,2000.3 582,1995.2C602.4,1989.8 621.5,1980.1 641.5,1973.1C654.8,1968.4 667.9,1963.2 681.7,1960.2C689.4,1958.5 697.5,1958.7 705.4,1959.2C715,1959.8 724.6,1961.2 733.8,1963.7C744.8,1966.7 754.7,1972.8 765.7,1975.7C779.2,1979.2 793.2,1980.5 807,1982.7C814.9,1984 822.8,1984.7 830.7,1986.1C850.5,1989.7 870.1,1994.4 889.9,1997.7C911.3,2001.3 933,2003.8 954.5,2006.7C965.3,2008.1 976.2,2008.9 987,2010.7C997.4,2012.4 1007.8,2014.9 1018.1,2017.2C1027.4,2019.3 1036.6,2022 1046,2023.7C1057.5,2025.8 1069,2027.9 1080.7,2028.6C1100.9,2029.9 1121.2,2029.8 1141.5,2029.8C1149.2,2029.8 1157,2027.8 1164.7,2028.6C1172.8,2029.4 1180.5,2032.7 1188.4,2034.6C1193.9,2035.9 1199.3,2037.4 1204.9,2038.1C1215.1,2039.4 1225.4,2040 1235.7,2040.5C1246,2041 1256.2,2040.9 1266.5,2041C1287,2041.1 1307.5,2040.5 1328,2041C1350.3,2041.5 1372.6,2043.8 1394.9,2044C1415.6,2044.2 1436.2,2042.4 1456.9,2042.1C1476.9,2041.8 1496.8,2042 1516.8,2042.1C1538.6,2042.2 1560.5,2042.7 1582.3,2042.8C1589.9,2042.9 1597.4,2042.7 1605,2042.7" fill="none" stroke="#ff0000" stroke-width="4.4" stroke-linejoin="round" stroke-linecap="butt"/>
<use href="#ci_b" x="291.1" y="2022.4"/>
<use href="#ci_b" x="344.8" y="2021.2"/>
<use href="#ci_b" x="398.7" y="2016.9"/>
<use href="#ci_b" x="460.2" y="2011.7"/>
<use href="#ci_b" x="522.9" y="2003.9"/>
<use href="#ci_b" x="582" y="1994"/>
<use href="#ci_b" x="641.5" y="1972.4"/>
<use href="#ci_b" x="705.4" y="1958.2"/>
<use href="#ci_b" x="765.7" y="1979.5"/>
<use href="#ci_b" x="830.7" y="1985.4"/>
<use href="#ci_b" x="889.9" y="1996"/>
<use href="#ci_b" x="954.5" y="2010.2"/>
<use href="#ci_b" x="1018.1" y="2019.7"/>
<use href="#ci_b" x="1080.7" y="2027.9"/>
<use href="#ci_b" x="1141.5" y="2029.1"/>
<use href="#ci_b" x="1204.9" y="2037.4"/>
<use href="#ci_b" x="1266.5" y="2040.3"/>
<use href="#ci_b" x="1328" y="2040.3"/>
<use href="#ci_b" x="1394.9" y="2043.3"/>
<use href="#ci_b" x="1456.9" y="2041.4"/>
<use href="#ci_b" x="1516.8" y="2041.4"/>
<use href="#ci_b" x="1582.3" y="2042.1"/>
<path d="M221,2033 L222,2033 L223,2033 L224,2033 L224.5,2033 M240.9,2033.2 L241,2033.2 L242,2033.2 L243,2033.2 L244,2033.2 L245,2033.2 L245.3,2033.2 M261.7,2033.1 L262,2033.1 L263,2033.1 L264,2033.1 L265,2033 L266,2033 L266.1,2033 M282.4,2031.7 L283,2031.6 L284,2031.5 L285,2031.4 L286,2031.3 L286.8,2031.2 M303.2,2029.8 L304,2029.7 L305,2029.7 L306,2029.6 L307,2029.5 L307.6,2029.5 M324,2028.5 L324.1,2028.5 L325.1,2028.4 L326.1,2028.3 L327.1,2028.3 L328.1,2028.2 L328.3,2028.2 M344.7,2027.4 L345.2,2027.4 L346.2,2027.4 L347.2,2027.3 L348.2,2027.3 L349.1,2027.2 M365.5,2026.8 L366.4,2026.8 L367.4,2026.8 L368.4,2026.8 L369.5,2026.8 L370.5,2026.8 L371.4,2026.8 M387.8,2026.8 L388.7,2026.8 L389.7,2026.8 L390.7,2026.8 L391.8,2026.8 L392.8,2026.8 L393.7,2026.8 M410.1,2026.9 L411,2026.9 L412,2027 L413,2027 L414.1,2027 L415.1,2027 L416,2027 M432.4,2027 L433.3,2027 L434.3,2027 L435.3,2027 L436.3,2027 L437.3,2027 L437.5,2027 M453.9,2027 L454.4,2027 L455.4,2027 L456.4,2027 L457.4,2027 L458.4,2027 L458.9,2027 M475.3,2027 L475.5,2027 L476.5,2027 L477.5,2027 L478.5,2027 L479.5,2027 L480.4,2027 M496.8,2027 L497.6,2027 L498.6,2027 L499.6,2027 L500.1,2027 M516.5,2027.1 L516.6,2027.1 L517.7,2027.1 L518.7,2027.1 L519.7,2027.1 L519.8,2027.1 M536.2,2027.1 L536.7,2027.1 L537.7,2027.1 L538.7,2027.1 L539.5,2027.1 M555.9,2026.8 L556.7,2026.8 L557.7,2026.8 L558.7,2026.8 L559.7,2026.7 L560.5,2026.7 M576.9,2026.2 L577.8,2026.2 L578.8,2026.1 L579.8,2026.1 L580.8,2026.1 L581.6,2026 M598,2025.4 L598.8,2025.3 L599.8,2025.3 L600.8,2025.3 L601.8,2025.2 L602.6,2025.2 M619,2024.4 L619.8,2024.4 L620.8,2024.4 L621.8,2024.3 L622.8,2024.3 L622.9,2024.3 M639.3,2023.6 L639.8,2023.6 L640.8,2023.5 L641.8,2023.5 L642.8,2023.4 L643.3,2023.4 M659.6,2022.4 L659.8,2022.3 L660.8,2022.3 L661.8,2022.2 L662.8,2022.1 L663.6,2022 M679.9,2020.1 L680.8,2020 L681.8,2019.8 L682,2019.8 M698.2,2016.9 L698.8,2016.8 L699.8,2016.6 L700.4,2016.5 M716.5,2013.4 L716.7,2013.4 L717.7,2013.2 L718.6,2013 M734.8,2010.5 L735.6,2010.3 L736.6,2010.2 L737.6,2010 L738.6,2009.9 L739.5,2009.8 M755.7,2007.3 L756.4,2007.2 L757.4,2007.1 L758.4,2006.9 L759.4,2006.8 L760.3,2006.7 M776.6,2004.7 L777.3,2004.6 L778.3,2004.5 L779.3,2004.4 L780.3,2004.3 L781.1,2004.2 M797.5,2003 L798.4,2002.9 L799.4,2002.9 L800.4,2002.9 L801.4,2002.8 L802,2002.8 M818.4,2002.4 L818.6,2002.4 L819.6,2002.4 L820.6,2002.4 L821.6,2002.4 L822.7,2002.4 L822.9,2002.4 M839.3,2002.4 L839.9,2002.4 L840.9,2002.4 L841.9,2002.3 L842.9,2002.3 L843.8,2002.3 M860.2,2002.2 L861.1,2002.1 L862.1,2002.1 L863.1,2002.1 L864.1,2002.1 L864.3,2002.1 M880.7,2001.7 L881.3,2001.7 L882.3,2001.6 L883.3,2001.6 L884.3,2001.6 L884.8,2001.6 M901.2,2001.7 L901.4,2001.7 L902.4,2001.7 L903.4,2001.7 L904.4,2001.8 L905.3,2001.8 M921.7,2003.1 L922.5,2003.2 L923.4,2003.3 L924.4,2003.4 L925.4,2003.5 L925.5,2003.6 M941.7,2006 L942.2,2006.1 L943.2,2006.3 L944.2,2006.5 L945.2,2006.6 L945.6,2006.7 M961.8,2009.6 L962,2009.7 L962.9,2009.8 L963.9,2010 L964.9,2010.2 L965.7,2010.3 M981.9,2013 L982.8,2013.2 L983.8,2013.3 L984.8,2013.5 L985.8,2013.6 L986.8,2013.8 L987.4,2013.9 M1003.6,2016.5 L1003.9,2016.6 L1004.9,2016.8 L1005.9,2016.9 L1006.9,2017.1 L1007.9,2017.2 L1008.9,2017.4 L1009.1,2017.5 M1025.3,2020.1 L1025.9,2020.2 L1026.9,2020.4 L1027.9,2020.6 L1028.9,2020.7 L1029.9,2020.9 L1030.8,2021.1 M1047,2023.8 L1047.8,2024 L1048.8,2024.2 L1049.8,2024.3 L1050.8,2024.5 L1051.7,2024.7 M1067.9,2027.8 L1068.7,2027.9 L1069.7,2028.1 L1070.7,2028.3 L1071.7,2028.5 L1072.6,2028.7 M1088.8,2031.4 L1089.6,2031.5 L1090.6,2031.7 L1091.6,2031.8 L1092.6,2031.9 L1093.5,2032.1 M1109.8,2033.7 L1110.7,2033.7 L1111.7,2033.8 L1112.7,2033.8 L1113.7,2033.9 M1130.1,2034.3 L1131,2034.3 L1132,2034.3 L1133,2034.3 L1133.9,2034.3 M1150.3,2034.4 L1151.2,2034.4 L1152.3,2034.4 L1153.3,2034.5 L1154.2,2034.5 M1170.6,2035 L1171.4,2035.1 L1172.4,2035.1 L1173.4,2035.2 L1174.4,2035.2 L1174.9,2035.2 M1191.3,2036.1 L1191.5,2036.1 L1192.5,2036.1 L1193.5,2036.2 L1194.5,2036.2 L1195.5,2036.3 L1195.7,2036.3 M1212.1,2037.2 L1212.6,2037.2 L1213.6,2037.2 L1214.6,2037.3 L1215.6,2037.3 L1216.4,2037.4 M1232.8,2038.2 L1233.6,2038.3 L1234.6,2038.3 L1235.6,2038.4 L1236.7,2038.4 L1237.7,2038.5 L1237.8,2038.5 M1254.2,2039.3 L1254.7,2039.4 L1255.7,2039.4 L1256.7,2039.5 L1257.7,2039.5 L1258.8,2039.6 L1259.3,2039.6 M1275.7,2040.3 L1275.8,2040.4 L1276.8,2040.4 L1277.8,2040.4 L1278.8,2040.5 L1279.9,2040.5 L1280.7,2040.5 M1297.1,2041 L1298,2041 L1299,2041 L1300,2041 L1301,2041.1 L1301.6,2041.1 M1318,2041.2 L1318.2,2041.2 L1319.2,2041.2 L1320.2,2041.2 L1321.3,2041.2 L1322.3,2041.2 L1322.5,2041.2 M1338.9,2041.3 L1339.5,2041.3 L1340.5,2041.3 L1341.5,2041.3 L1342.5,2041.3 L1343.4,2041.3 M1359.8,2041.3 L1360.7,2041.3 L1361.7,2041.3 L1362.7,2041.3 L1363.5,2041.3 M1379.9,2041.3 L1380.8,2041.3 L1381.8,2041.3 L1382.8,2041.3 L1383.7,2041.3 M1400.1,2041.3 L1400.9,2041.3 L1401.9,2041.3 L1402.9,2041.3 L1403.8,2041.3 M1420.2,2041.3 L1421.1,2041.3 L1422.1,2041.3 L1423.1,2041.3 L1424.1,2041.3 L1424.3,2041.3 M1440.7,2041.3 L1441.2,2041.3 L1442.2,2041.3 L1443.3,2041.3 L1444.3,2041.3 L1444.8,2041.3 M1461.2,2041.3 L1461.4,2041.3 L1462.4,2041.3 L1463.4,2041.3 L1464.4,2041.3 L1465.3,2041.3 M1481.7,2041.3 L1482.5,2041.3 L1483.5,2041.3 L1484.5,2041.3 L1485.5,2041.3 L1486.5,2041.3 L1486.7,2041.3 M1503.1,2041.3 L1503.5,2041.3 L1504.5,2041.3 L1505.5,2041.3 L1506.6,2041.3 L1507.6,2041.3 L1508,2041.3 M1524.4,2041.3 L1524.6,2041.3 L1525.6,2041.3 L1526.6,2041.3 L1527.6,2041.3 L1528.6,2041.3 L1529.4,2041.3 M1545.8,2041.3 L1546.7,2041.3 L1547.7,2041.3 L1548.7,2041.3 L1549.3,2041.3 M1565.7,2041.3 L1565.9,2041.3 L1566.9,2041.3 L1567.9,2041.3 L1568.9,2041.3 L1569.1,2041.3 M1585.5,2041.3 L1586.1,2041.3 L1587.1,2041.3 L1588.1,2041.3 L1589,2041.3" fill="none" stroke="#0000ff" stroke-width="3.6" stroke-linejoin="round" stroke-linecap="butt"/>
<use href="#tr_b" x="295" y="2032.8"/>
<use href="#tr_b" x="357.3" y="2029.4"/>
<use href="#tr_b" x="424.2" y="2029.4"/>
<use href="#tr_b" x="488.6" y="2029.4"/>
<use href="#tr_b" x="547.7" y="2029.4"/>
<use href="#tr_b" x="610.8" y="2027.2"/>
<use href="#tr_b" x="671.8" y="2023.6"/>
<use href="#tr_b" x="726.7" y="2014.1"/>
<use href="#tr_b" x="789.3" y="2005.9"/>
<use href="#tr_b" x="852" y="2004.7"/>
<use href="#tr_b" x="913.5" y="2004.7"/>
<use href="#tr_b" x="973.8" y="2014.1"/>
<use href="#tr_b" x="1038.9" y="2024.8"/>
<use href="#tr_b" x="1101.6" y="2035.4"/>
<use href="#tr_b" x="1162.4" y="2037.1"/>
<use href="#tr_b" x="1224.6" y="2040.2"/>
<use href="#tr_b" x="1288.9" y="2043.2"/>
<use href="#tr_b" x="1351.6" y="2043.7"/>
<use href="#tr_b" x="1412" y="2043.7"/>
<use href="#tr_b" x="1473.5" y="2043.7"/>
<use href="#tr_b" x="1537.6" y="2043.7"/>
<use href="#tr_b" x="1597.2" y="2043.7"/>
<path d="M221,2028.3C229.8,2029.1 238.5,2030.7 247.3,2030.6C262.3,2030.3 277.3,2028 292.3,2027.1C310.2,2026 328.1,2025.9 346,2024.7C363.8,2023.5 381.6,2021.6 399.4,2020C419.9,2018.2 440.4,2016.5 460.9,2014.5C481.4,2012.4 502,2010.4 522.4,2007.7C542.9,2005 563.7,2003.3 583.7,1998.2C605.1,1992.7 625.4,1983.4 646.2,1975.9C658.1,1971.6 669.4,1965.5 681.7,1962.9C690.2,1961.1 699.1,1962.3 707.7,1962.9C716.5,1963.5 725.3,1964.4 733.8,1966.4C745.3,1969.1 756.1,1974.2 767.6,1977.1C780.6,1980.3 793.9,1982.2 807.1,1984.7C814.4,1986.1 821.8,1987.5 829.1,1988.9C850,1993 870.7,1998.4 891.8,2001.4C913,2004.4 934.5,2004.5 955.8,2006.7C966.4,2007.8 976.8,2009.5 987.3,2011.4C996.6,2013.1 1005.8,2015.3 1015,2017.3C1025.5,2019.6 1035.9,2022.4 1046.4,2024.4C1056,2026.2 1065.7,2028.3 1075.5,2028.7C1082.4,2029 1089.5,2028.4 1096.1,2026.3C1104.5,2023.7 1112,2019 1119.8,2014.9C1128.2,2010.5 1135.6,2003.8 1144.6,2000.7C1151.7,1998.2 1159.6,1998.9 1167.1,1998.4C1174.2,1997.9 1181.3,1997.7 1188.4,1997.7C1198.6,1997.7 1208.9,1997.7 1219.1,1998.4C1228.1,1999 1237.2,1999.3 1245.9,2001.4C1252.2,2002.9 1257.4,2007.5 1263.7,2009C1271.4,2010.9 1279.4,2010.8 1287.3,2011.4C1294.4,2012 1301.6,2011.4 1308.6,2012.6C1315.9,2013.8 1322.6,2017.5 1329.9,2018.5C1336.9,2019.5 1344.1,2018.8 1351.2,2018.5C1358.7,2018.2 1366.1,2016.7 1373.6,2016.6C1384.3,2016.5 1394.9,2017.5 1405.6,2017.8C1415.5,2018.1 1425.3,2018.5 1435.2,2018.5C1445,2018.5 1454.9,2018.2 1464.7,2017.8C1475.4,2017.4 1486,2015.8 1496.7,2016.1C1505.8,2016.3 1514.8,2018.7 1523.9,2019.2C1535.3,2019.9 1546.7,2019.2 1558.1,2019.7C1566.4,2020.1 1574.7,2021.6 1583,2022C1590.3,2022.4 1597.7,2022 1605,2022" fill="none" stroke="#008000" stroke-width="4.6" stroke-linejoin="round" stroke-linecap="butt"/>
<use href="#di_b" x="292.3" y="2027.1"/>
<use href="#di_b" x="346" y="2024.7"/>
<use href="#di_b" x="399.4" y="2020"/>
<use href="#di_b" x="460.9" y="2014.5"/>
<use href="#di_b" x="522.4" y="2007.7"/>
<use href="#di_b" x="583.7" y="1998.2"/>
<use href="#di_b" x="646.2" y="1975.9"/>
<use href="#di_b" x="707.7" y="1962.9"/>
<use href="#di_b" x="767.6" y="1977.1"/>
<use href="#di_b" x="829.1" y="1988.9"/>
<use href="#di_b" x="891.8" y="2001.4"/>
<use href="#di_b" x="955.8" y="2006.7"/>
<use href="#di_b" x="1015" y="2017.3"/>
<use href="#di_b" x="1075.5" y="2028.7"/>
<use href="#di_b" x="1144.6" y="1998.4"/>
<use href="#di_b" x="1245.9" y="2001.4"/>
<use href="#di_b" x="1308.6" y="2012.6"/>
<use href="#di_b" x="1373.6" y="2016.6"/>
<use href="#di_b" x="1435.2" y="2018.5"/>
<use href="#di_b" x="1496.7" y="2016.1"/>
<use href="#di_b" x="1558.1" y="2019.7"/>
<path d="M221,2021.9C230.8,2022.8 240.6,2023.6 250.4,2024.7C258.9,2025.7 267.3,2027.1 275.7,2028.3C284.1,2029.5 292.5,2030.9 301,2031.8C310.9,2032.9 320.9,2033.6 330.8,2034.2C339.9,2034.8 348.9,2035.1 358,2035.4C365.9,2035.6 373.8,2035.3 381.7,2035.8C391.1,2036.4 400.5,2037.5 409.8,2038.9C417.2,2040.1 424.4,2042.2 431.8,2043.6C441.2,2045.4 450.5,2047.5 460,2048.4C469.9,2049.3 479.9,2048.7 489.8,2048.8C498.1,2048.9 506.5,2049.1 514.8,2049.1C524.6,2049.1 534.4,2048.9 544.2,2048.8C553,2048.8 561.9,2048.7 570.7,2048.8C579.4,2048.8 588.2,2049.1 596.9,2049.1C614.9,2049 633,2048.7 651,2048.5C670.7,2048.2 690.4,2048.5 710.1,2047.6C719.4,2047.2 728.7,2045.9 738,2044.5C748.4,2043 759.1,2042.5 769,2039C778.6,2035.6 787.9,2030.6 795.7,2024C799.7,2020.6 800.5,2014.6 803,2010C805.5,2005.3 808.5,2000.9 810.6,1996C814.3,1987.5 817.6,1978.8 820.5,1970C823.7,1960.1 826.5,1950.1 829,1940C832.3,1926.7 835.4,1913.4 838,1900C841.2,1883.4 844,1866.7 846.5,1850C849,1833.4 851,1816.7 853,1800C855,1783.4 856.9,1766.7 858.5,1750C861.8,1715.3 864.6,1680.5 867.6,1645.7C870,1618.1 872.6,1590.5 874.7,1562.9C876.5,1539.2 877.8,1515.6 879.5,1491.9C881.2,1468.3 883.1,1444.6 884.9,1421C886.6,1399 887.9,1377 889.9,1355C891.2,1341.6 893.3,1328.2 894.8,1314.8C896.1,1303 897.1,1291.1 898.4,1279.3C899.5,1269.9 900.7,1260.4 901.9,1251C902.7,1244.7 903.4,1238.3 904.3,1232C905.3,1224.9 906,1217.7 907.8,1210.7C908.8,1206.6 908.5,1198 912.6,1198.9C917.6,1200 917.3,1208.1 918.5,1213.1C920.9,1223.2 921.7,1233.6 923.2,1243.9C924.9,1255.7 926.3,1267.5 927.9,1279.3C929.5,1291.1 931.3,1302.9 932.7,1314.8C934.3,1328.2 935.6,1341.6 936.8,1355C938.7,1377 940.1,1399 942.1,1421C944.2,1444.7 947.1,1468.2 949.2,1491.9C951.2,1515.5 952.2,1539.3 954.4,1562.9C956.6,1586.6 959.5,1610.2 962.2,1633.9C964.5,1653.6 966.7,1673.3 969.3,1693C971.8,1712 974.4,1731.1 977.7,1750C980.4,1765.9 984.1,1781.5 987.3,1797.3C990.8,1814.6 993.7,1832.1 998,1849.3C1003.2,1870 1007.9,1891 1015.7,1910.9C1020.6,1923.5 1028.5,1934.9 1035.8,1946.3C1042.7,1957 1049.8,1967.6 1058.3,1977.1C1064.7,1984.3 1071.8,1991.5 1080.3,1996C1086.5,1999.3 1094,1998.8 1100.9,1999.6C1107.6,2000.4 1114.3,2000.3 1121,2000.7C1127.7,2001.1 1134.8,2004.2 1141.1,2001.9C1149.5,1998.8 1154.8,1990.2 1162.4,1985.4C1169.1,1981.1 1176.3,1977.9 1183.6,1974.7C1190.4,1971.7 1197.8,1970.3 1204.5,1967.1C1212.5,1963.2 1219.6,1957.7 1227.4,1953.4C1233.6,1950 1239.3,1944.6 1246.3,1944C1253.5,1943.4 1260.5,1947.1 1267.1,1949.9C1274.1,1952.9 1280.3,1957.5 1287,1961.2C1293.9,1965 1300.6,1969.2 1307.8,1972.4C1314.3,1975.3 1321,1977.9 1327.9,1979.4C1334.7,1980.9 1342.3,1978.6 1348.8,1981.3C1356.7,1984.6 1361.5,1993.6 1369.6,1996.5C1376.4,1998.9 1384.1,1996.6 1391.4,1996.5C1397.9,1996.4 1404.4,1994.9 1410.8,1996C1418.5,1997.4 1425.3,2001.8 1432.8,2003.8C1440,2005.7 1447.5,2006.5 1454.8,2007.8C1461.8,2009 1468.9,2009.8 1475.8,2011.4C1482.7,2013 1489.4,2015.4 1496.2,2017.3C1502.9,2019.1 1509.5,2021.1 1516.3,2022.5C1523.1,2023.9 1530,2024.9 1536.9,2025.6C1543.9,2026.3 1551,2026.3 1558.1,2026.8C1565.4,2027.3 1572.6,2028.6 1579.9,2028.7C1587.3,2028.8 1594.6,2027.7 1601.9,2027.2C1602.9,2027.1 1604,2027.1 1605,2027" fill="none" stroke="#ff00ff" stroke-width="4.6" stroke-linejoin="round" stroke-linecap="butt"/>
<use href="#pl_b" x="250.4" y="2024.7"/>
<use href="#pl_b" x="275.7" y="2028.3"/>
<use href="#pl_b" x="301" y="2031.8"/>
<use href="#pl_b" x="330.8" y="2034.2"/>
<use href="#pl_b" x="358" y="2035.4"/>
<use href="#pl_b" x="381.7" y="2035.8"/>
<use href="#pl_b" x="409.8" y="2038.9"/>
<use href="#pl_b" x="431.8" y="2043.6"/>
<use href="#pl_b" x="460" y="2048.4"/>
<use href="#pl_b" x="489.8" y="2048.8"/>
<use href="#pl_b" x="514.8" y="2049.1"/>
<use href="#pl_b" x="544.2" y="2048.8"/>
<use href="#pl_b" x="570.7" y="2048.8"/>
<use href="#pl_b" x="596.9" y="2049.1"/>
<use href="#pl_b" x="622.1" y="2048.8"/>
<use href="#pl_b" x="651" y="2048.5"/>
<use href="#pl_b" x="681.7" y="2048"/>
<use href="#pl_b" x="710.1" y="2047.6"/>
<use href="#pl_b" x="738" y="2044.5"/>
<use href="#pl_b" x="769.2" y="2038.9"/>
<use href="#pl_b" x="795.7" y="2024"/>
<use href="#pl_b" x="818.9" y="1977.1"/>
<use href="#pl_b" x="826" y="1937"/>
<use href="#pl_b" x="834.3" y="1910.9"/>
<use href="#pl_b" x="853.2" y="1813.9"/>
<use href="#pl_b" x="877.6" y="1549.2"/>
<use href="#pl_b" x="897.2" y="1249.8"/>
<use href="#pl_b" x="914.9" y="1158.7"/>
<use href="#pl_b" x="933.9" y="1320.3"/>
<use href="#pl_b" x="954" y="1569.3"/>
<use href="#pl_b" x="977.8" y="1757"/>
<use href="#pl_b" x="998" y="1849.3"/>
<use href="#pl_b" x="1015.7" y="1910.9"/>
<use href="#pl_b" x="1035.8" y="1946.3"/>
<use href="#pl_b" x="1058.3" y="1977.1"/>
<use href="#pl_b" x="1080.3" y="1996"/>
<use href="#pl_b" x="1100.9" y="1999.6"/>
<use href="#pl_b" x="1121" y="2000.7"/>
<use href="#pl_b" x="1141.1" y="2001.9"/>
<use href="#pl_b" x="1162.4" y="1985.4"/>
<use href="#pl_b" x="1204.5" y="1967.1"/>
<use href="#pl_b" x="1227.4" y="1953.4"/>
<use href="#pl_b" x="1246.3" y="1944"/>
<use href="#pl_b" x="1267.1" y="1949.9"/>
<use href="#pl_b" x="1287" y="1961.2"/>
<use href="#pl_b" x="1307.8" y="1972.4"/>
<use href="#pl_b" x="1327.9" y="1979.4"/>
<use href="#pl_b" x="1348.8" y="1981.3"/>
<use href="#pl_b" x="1369.6" y="1996.5"/>
<use href="#pl_b" x="1391.4" y="1996.5"/>
<use href="#pl_b" x="1410.8" y="1996"/>
<use href="#pl_b" x="1432.8" y="2003.8"/>
<use href="#pl_b" x="1454.8" y="2007.8"/>
<use href="#pl_b" x="1475.8" y="2011.4"/>
<use href="#pl_b" x="1496.2" y="2017.3"/>
<use href="#pl_b" x="1516.3" y="2022.5"/>
<use href="#pl_b" x="1536.9" y="2025.6"/>
<use href="#pl_b" x="1558.1" y="2026.8"/>
<use href="#pl_b" x="1579.9" y="2028.7"/>
<use href="#pl_b" x="1601.9" y="2027.2"/>
<path d="M221,2033C247.9,2034.2 274.8,2035.8 301.7,2036.6C329.7,2037.4 357.7,2037 385.7,2037.7C413.3,2038.4 440.9,2040.2 468.5,2040.8C496.2,2041.4 524,2041.4 551.7,2041.3C578.3,2041.3 605,2040.7 631.6,2040.5C659.7,2040.2 687.9,2040.6 716,2039.8C725.9,2039.5 735.8,2038.9 745.6,2037.4C753.6,2036.2 761.6,2034.4 769.2,2031.5C775.2,2029.2 780.5,2025.5 785.8,2022C789.6,2019.5 793.7,2017.3 796.4,2013.7C801,2007.6 804.1,2000.6 807.1,1993.6C810.8,1985.2 813.4,1976.3 816.5,1967.6C821.5,1953.4 826.9,1939.4 831.4,1925C834.8,1914.1 837.7,1903 840.2,1891.9C843.8,1876.2 846.9,1860.4 849.7,1844.6C852.5,1828.9 854.4,1813.1 856.8,1797.3C859.2,1781.5 862.2,1765.8 864,1750C867.4,1719.2 869.7,1688.3 872.4,1657.5C874.5,1633.8 876.5,1610.2 878.3,1586.5C880.1,1562.9 881.4,1539.2 883,1515.6C884.6,1491.9 886.4,1468.3 887.7,1444.6C889.4,1414.7 890.4,1384.9 892,1355C892.7,1341.6 893.9,1328.2 894.8,1314.8C896.1,1295.1 897.1,1275.4 898.4,1255.7C899.5,1239.9 900.5,1224.2 901.9,1208.4C902.9,1196.5 904,1184.7 905.5,1172.9C906.7,1163.4 907.9,1153.8 910.2,1144.5C911.5,1139.2 910.6,1129.1 916.1,1129.1C921.6,1129.1 920.7,1139.2 922,1144.5C924.3,1153.8 925.6,1163.4 926.8,1172.9C928.8,1188.6 929.9,1204.4 931.5,1220.2C933.1,1236 934.6,1251.7 936.2,1267.5C937.8,1283.3 939.3,1299 941,1314.8C942.4,1328.2 944.1,1341.6 945.4,1355C946.8,1369.1 948.3,1383.2 949.2,1397.3C951.3,1428.8 952.1,1460.4 954.4,1491.9C956.1,1515.6 958.8,1539.2 961.1,1562.9C963.4,1586.6 965.6,1610.3 968.2,1633.9C970.4,1653.6 972.7,1673.3 975.3,1693C977.8,1712 980.6,1731 983.6,1750C985.4,1761.9 987.5,1773.7 989.7,1785.5C992.7,1801.3 995.5,1817.1 999.1,1832.8C1001.8,1844.7 1005.3,1856.5 1008.6,1868.3C1012,1880.5 1014.8,1893 1019.2,1904.9C1023.5,1916.7 1028.9,1928 1034.6,1939.2C1039.6,1949 1045,1958.6 1051.2,1967.6C1055.3,1973.6 1060.4,1978.9 1065.4,1984.2C1070.1,1989.2 1074.3,1995 1080.3,1998.4C1086.5,2001.9 1093.9,2003 1100.9,2004.3C1107.1,2005.5 1113.6,2004.7 1119.8,2006C1127.1,2007.5 1134,2010.5 1141.1,2012.6C1146.6,2014.2 1152,2016.3 1157.6,2017.3C1163.1,2018.3 1168.7,2018.9 1174.2,2018.5C1179.8,2018.1 1185.5,2017 1190.7,2014.9C1195.5,2013 1199.4,2009.3 1203.8,2006.7C1207.3,2004.6 1210.7,2002.4 1214.4,2000.7C1217.8,1999.1 1221.5,1998 1225,1996.7" fill="none" stroke="#00ff00" stroke-width="4.6" stroke-linejoin="round" stroke-linecap="butt"/>
<use href="#st_b" x="301.7" y="2036.6"/>
<use href="#st_b" x="385.7" y="2037.7"/>
<use href="#st_b" x="468.5" y="2040.8"/>
<use href="#st_b" x="551.7" y="2041.3"/>
<use href="#st_b" x="631.6" y="2040.5"/>
<use href="#st_b" x="716" y="2039.8"/>
<use href="#st_b" x="796.4" y="2013.7"/>
<use href="#st_b" x="831.4" y="1925"/>
<use href="#st_b" x="891.3" y="1356"/>
<use href="#st_b" x="954.4" y="1496.7"/>
<use href="#st_b" x="1019.2" y="1904.9"/>
<use href="#st_b" x="1080.3" y="1998.4"/>
<use href="#st_b" x="1141.1" y="2012.6"/>
<use href="#st_b" x="1203.8" y="2006.7"/>
</g>
</g>
<g id="arrows" fill="#000000" shape-rendering="crispEdges">
<rect x="312" y="536" width="365" height="3"/>
<path d="M286,536 L314,530.2 L314,544.8 L286,539 Z"/>
<rect x="1216" y="1144" width="326" height="3"/>
<path d="M1568,1144 L1540,1138.2 L1540,1152.8 L1568,1147 Z"/>
</g>
<g id="axes" shape-rendering="crispEdges">
<rect x="196" y="59" width="1409" height="5" fill="#000000"/>
<rect x="196" y="2112" width="1409" height="5" fill="#000000"/>
<rect x="216" y="59" width="5" height="2058" fill="#000000"/>
<rect x="206" y="238" width="10" height="5" fill="#000000"/>
<rect x="206" y="193" width="10" height="5" fill="#000000"/>
<rect x="206" y="161" width="10" height="5" fill="#000000"/>
<rect x="206" y="136" width="10" height="5" fill="#000000"/>
<rect x="206" y="116" width="10" height="5" fill="#000000"/>
<rect x="206" y="99" width="10" height="5" fill="#000000"/>
<rect x="206" y="84" width="10" height="5" fill="#000000"/>
<rect x="206" y="71" width="10" height="5" fill="#000000"/>
<rect x="196" y="316" width="20" height="5" fill="#000000"/>
<rect x="206" y="495" width="10" height="5" fill="#000000"/>
<rect x="206" y="450" width="10" height="5" fill="#000000"/>
<rect x="206" y="418" width="10" height="5" fill="#000000"/>
<rect x="206" y="393" width="10" height="5" fill="#000000"/>
<rect x="206" y="373" width="10" height="5" fill="#000000"/>
<rect x="206" y="355" width="10" height="5" fill="#000000"/>
<rect x="206" y="340" width="10" height="5" fill="#000000"/>
<rect x="206" y="327" width="10" height="5" fill="#000000"/>
<rect x="196" y="572" width="20" height="5" fill="#000000"/>
<rect x="206" y="752" width="10" height="5" fill="#000000"/>
<rect x="206" y="706" width="10" height="5" fill="#000000"/>
<rect x="206" y="674" width="10" height="5" fill="#000000"/>
<rect x="206" y="650" width="10" height="5" fill="#000000"/>
<rect x="206" y="629" width="10" height="5" fill="#000000"/>
<rect x="206" y="612" width="10" height="5" fill="#000000"/>
<rect x="206" y="597" width="10" height="5" fill="#000000"/>
<rect x="206" y="584" width="10" height="5" fill="#000000"/>
<rect x="196" y="829" width="20" height="5" fill="#000000"/>
<rect x="206" y="1008" width="10" height="5" fill="#000000"/>
<rect x="206" y="963" width="10" height="5" fill="#000000"/>
<rect x="206" y="931" width="10" height="5" fill="#000000"/>
<rect x="206" y="906" width="10" height="5" fill="#000000"/>
<rect x="206" y="886" width="10" height="5" fill="#000000"/>
<rect x="206" y="869" width="10" height="5" fill="#000000"/>
<rect x="206" y="854" width="10" height="5" fill="#000000"/>
<rect x="206" y="841" width="10" height="5" fill="#000000"/>
<rect x="196" y="1086" width="20" height="5" fill="#000000"/>
<rect x="206" y="1265" width="10" height="5" fill="#000000"/>
<rect x="206" y="1220" width="10" height="5" fill="#000000"/>
<rect x="206" y="1188" width="10" height="5" fill="#000000"/>
<rect x="206" y="1163" width="10" height="5" fill="#000000"/>
<rect x="206" y="1142" width="10" height="5" fill="#000000"/>
<rect x="206" y="1125" width="10" height="5" fill="#000000"/>
<rect x="206" y="1110" width="10" height="5" fill="#000000"/>
<rect x="206" y="1097" width="10" height="5" fill="#000000"/>
<rect x="196" y="1342" width="20" height="5" fill="#000000"/>
<rect x="206" y="1521" width="10" height="5" fill="#000000"/>
<rect x="206" y="1476" width="10" height="5" fill="#000000"/>
<rect x="206" y="1444" width="10" height="5" fill="#000000"/>
<rect x="206" y="1419" width="10" height="5" fill="#000000"/>
<rect x="206" y="1399" width="10" height="5" fill="#000000"/>
<rect x="206" y="1382" width="10" height="5" fill="#000000"/>
<rect x="206" y="1367" width="10" height="5" fill="#000000"/>
<rect x="206" y="1354" width="10" height="5" fill="#000000"/>
<rect x="196" y="1599" width="20" height="5" fill="#000000"/>
<rect x="206" y="1778" width="10" height="5" fill="#000000"/>
<rect x="206" y="1733" width="10" height="5" fill="#000000"/>
<rect x="206" y="1701" width="10" height="5" fill="#000000"/>
<rect x="206" y="1676" width="10" height="5" fill="#000000"/>
<rect x="206" y="1656" width="10" height="5" fill="#000000"/>
<rect x="206" y="1639" width="10" height="5" fill="#000000"/>
<rect x="206" y="1624" width="10" height="5" fill="#000000"/>
<rect x="206" y="1610" width="10" height="5" fill="#000000"/>
<rect x="196" y="1855" width="20" height="5" fill="#000000"/>
<rect x="206" y="2035" width="10" height="5" fill="#000000"/>
<rect x="206" y="1990" width="10" height="5" fill="#000000"/>
<rect x="206" y="1957" width="10" height="5" fill="#000000"/>
<rect x="206" y="1933" width="10" height="5" fill="#000000"/>
<rect x="206" y="1912" width="10" height="5" fill="#000000"/>
<rect x="206" y="1895" width="10" height="5" fill="#000000"/>
<rect x="206" y="1880" width="10" height="5" fill="#000000"/>
<rect x="206" y="1867" width="10" height="5" fill="#000000"/>
<rect x="317" y="2117" width="5" height="10" fill="#000000"/>
<rect x="317" y="64" width="5" height="10" fill="#000000"/>
<rect x="421" y="2117" width="5" height="20" fill="#000000"/>
<rect x="421" y="64" width="5" height="19" fill="#000000"/>
<rect x="525" y="2117" width="5" height="10" fill="#000000"/>
<rect x="525" y="64" width="5" height="10" fill="#000000"/>
<rect x="629" y="2117" width="5" height="20" fill="#000000"/>
<rect x="629" y="64" width="5" height="19" fill="#000000"/>
<rect x="733" y="2117" width="5" height="10" fill="#000000"/>
<rect x="733" y="64" width="5" height="10" fill="#000000"/>
<rect x="837" y="2117" width="5" height="20" fill="#000000"/>
<rect x="837" y="64" width="5" height="19" fill="#000000"/>
<rect x="942" y="2117" width="5" height="10" fill="#000000"/>
<rect x="942" y="64" width="5" height="10" fill="#000000"/>
<rect x="1046" y="2117" width="5" height="20" fill="#000000"/>
<rect x="1046" y="64" width="5" height="19" fill="#000000"/>
<rect x="1150" y="2117" width="5" height="10" fill="#000000"/>
<rect x="1150" y="64" width="5" height="10" fill="#000000"/>
<rect x="1254" y="2117" width="5" height="20" fill="#000000"/>
<rect x="1254" y="64" width="5" height="19" fill="#000000"/>
<rect x="1358" y="2117" width="5" height="10" fill="#000000"/>
<rect x="1358" y="64" width="5" height="10" fill="#000000"/>
<rect x="1462" y="2117" width="5" height="20" fill="#000000"/>
<rect x="1462" y="64" width="5" height="19" fill="#000000"/>
<rect x="1566" y="2117" width="5" height="10" fill="#000000"/>
<rect x="1566" y="64" width="5" height="10" fill="#000000"/>
<rect x="1605" y="59" width="5" height="2058" fill="#0000ff"/>
<rect x="1610" y="2074" width="20" height="5" fill="#0000ff"/>
<rect x="1610" y="1900" width="10" height="5" fill="#0000ff"/>
<rect x="1610" y="1726" width="20" height="5" fill="#0000ff"/>
<rect x="1610" y="1553" width="10" height="5" fill="#0000ff"/>
<rect x="1610" y="1379" width="20" height="5" fill="#0000ff"/>
<rect x="1610" y="1205" width="10" height="5" fill="#0000ff"/>
<rect x="1610" y="1032" width="20" height="5" fill="#0000ff"/>
<rect x="1610" y="858" width="10" height="5" fill="#0000ff"/>
<rect x="1610" y="684" width="20" height="5" fill="#0000ff"/>
<rect x="1610" y="510" width="10" height="5" fill="#0000ff"/>
<rect x="1610" y="336" width="20" height="5" fill="#0000ff"/>
<rect x="1610" y="163" width="10" height="5" fill="#0000ff"/>
</g>
<g id="labels">
<text x="186" y="78.5" font-size="48" text-anchor="end" fill="#000000">10<tspan font-size="29" dy="-27">4</tspan></text>
<text x="186" y="335.1" font-size="48" text-anchor="end" fill="#000000">10<tspan font-size="29" dy="-27">3</tspan></text>
<text x="186" y="591.8" font-size="48" text-anchor="end" fill="#000000">10<tspan font-size="29" dy="-27">2</tspan></text>
<text x="186" y="848.4" font-size="48" text-anchor="end" fill="#000000">10<tspan font-size="29" dy="-27">1</tspan></text>
<text x="186" y="1105" font-size="48" text-anchor="end" fill="#000000">10<tspan font-size="29" dy="-27">0</tspan></text>
<text x="186" y="1361.6" font-size="48" text-anchor="end" fill="#000000">10<tspan font-size="29" dy="-27">-1</tspan></text>
<text x="186" y="1618.2" font-size="48" text-anchor="end" fill="#000000">10<tspan font-size="29" dy="-27">-2</tspan></text>
<text x="186" y="1874.9" font-size="48" text-anchor="end" fill="#000000">10<tspan font-size="29" dy="-27">-3</tspan></text>
<text x="186" y="2131.5" font-size="48" text-anchor="end" fill="#000000">10<tspan font-size="29" dy="-27">-4</tspan></text>
<text transform="translate(424,2182.3) scale(1.035,0.985)" font-size="48" text-anchor="middle" fill="#000000">20</text>
<text transform="translate(632.2,2182.3) scale(1.035,0.985)" font-size="48" text-anchor="middle" fill="#000000">40</text>
<text transform="translate(840.5,2182.3) scale(1.035,0.985)" font-size="48" text-anchor="middle" fill="#000000">60</text>
<text transform="translate(1048.7,2182.3) scale(1.035,0.985)" font-size="48" text-anchor="middle" fill="#000000">80</text>
<text transform="translate(1257,2182.3) scale(1.035,0.985)" font-size="48" text-anchor="middle" fill="#000000">100</text>
<text transform="translate(1465.2,2182.3) scale(1.035,0.985)" font-size="48" text-anchor="middle" fill="#000000">120</text>
<text transform="translate(1640,2088.8) scale(1.05,0.985)" font-size="48" fill="#0000ff">0</text>
<text transform="translate(1640,1741.3) scale(1.05,0.985)" font-size="48" fill="#0000ff">1</text>
<text transform="translate(1640,1393.8) scale(1.05,0.985)" font-size="48" fill="#0000ff">2</text>
<text transform="translate(1640,1046.3) scale(1.05,0.985)" font-size="48" fill="#0000ff">3</text>
<text transform="translate(1640,698.8) scale(1.05,0.985)" font-size="48" fill="#0000ff">4</text>
<text transform="translate(1640,351.3) scale(1.05,0.985)" font-size="48" fill="#0000ff">5</text>
<text x="969.5" y="2266" font-size="54" text-anchor="middle" fill="#000000" textLength="367.5" lengthAdjust="spacingAndGlyphs">Temperature (°C)</text>
<text transform="translate(51,401) rotate(-90)" font-size="50.5" text-anchor="middle" fill="#000000" textLength="468" lengthAdjust="spacingAndGlyphs">Storage modulus (MPa)</text>
<text transform="translate(1723.5,1442.8) rotate(90)" font-size="53" text-anchor="middle" fill="#0000ff" textLength="123" lengthAdjust="spacingAndGlyphs">Tan δ</text>
</g>
<g id="legend">
<g shape-rendering="crispEdges">
<rect x="283" y="1214" width="38" height="4" fill="#000000"/>
<rect x="357" y="1214" width="38" height="4" fill="#000000"/>
<g transform="translate(339,1216.5)"><rect x="-4" y="-3.9" width="8" height="6.8" fill="#fff" stroke="#000000" stroke-width="2"/></g>
</g>
<text transform="translate(406.2,1231.8) scale(0.972,1)" font-size="54" fill="#000000">PLA2002D</text>
<g shape-rendering="crispEdges">
<rect x="283" y="1280" width="38" height="3" fill="#000000"/>
<rect x="357" y="1280" width="38" height="3" fill="#000000"/>
<g transform="translate(339,1282)"><circle r="4" fill="#fff" stroke="#ff0000" stroke-width="2"/></g>
</g>
<text transform="translate(406.2,1297.3) scale(0.972,1)" font-size="54" fill="#000000">PLA2/PEG</text>
<g shape-rendering="crispEdges">
<rect x="283" y="1346" width="38" height="3" fill="#000000"/>
<rect x="357" y="1346" width="38" height="3" fill="#000000"/>
<g transform="translate(339,1347)"><path d="M-6.9,-3.7 L6.9,-3.7 L0,7.9 Z" fill="#fff" stroke="#0000ff" stroke-width="2.2" stroke-linejoin="miter"/></g>
</g>
<text transform="translate(406.2,1362.3) scale(0.972,1)" font-size="54" fill="#000000">PLA2/PEG/talc</text>
<g shape-rendering="crispEdges">
<rect x="283" y="1410" width="38" height="4" fill="#000000"/>
<rect x="357" y="1410" width="38" height="4" fill="#000000"/>
<g transform="translate(339,1412.5)"><path d="M0,-7.6 L7.1,0 L0,7.6 L-7.1,0 Z" fill="#fff" stroke="#008000" stroke-width="2.7" stroke-linejoin="miter"/></g>
</g>
<text transform="translate(406.2,1427.8) scale(0.972,1)" font-size="54" fill="#000000">PLA2/PEG/LAK</text>
<g shape-rendering="crispEdges">
<rect x="283" y="1476" width="38" height="4" fill="#ff00ff"/>
<rect x="357" y="1476" width="38" height="4" fill="#ff00ff"/>
<g transform="translate(339,1477.5)"><path d="M-7.5,0 H7.5 M0,-7.5 V7.5" fill="none" stroke="#ff00ff" stroke-width="2.8"/></g>
</g>
<text transform="translate(406.2,1492.8) scale(0.972,1)" font-size="54" fill="#000000">PLA2/talc</text>
<g shape-rendering="crispEdges">
<rect x="283" y="1542" width="38" height="3" fill="#000000"/>
<rect x="357" y="1542" width="38" height="3" fill="#000000"/>
<g transform="translate(339,1542.6)"><path d="M0,-6.6L1.7,-2.3L6.3,-2L2.8,0.9L3.9,5.3L0,2.9L-3.9,5.3L-2.8,0.9L-6.3,-2L-1.7,-2.3Z" fill="#fff" stroke="#00ff00" stroke-width="2.2" stroke-linejoin="miter"/></g>
</g>
<text transform="translate(406.2,1558.3) scale(0.972,1)" font-size="54" fill="#000000">PLA2/LAK</text>
</g>
</svg></body></html>
